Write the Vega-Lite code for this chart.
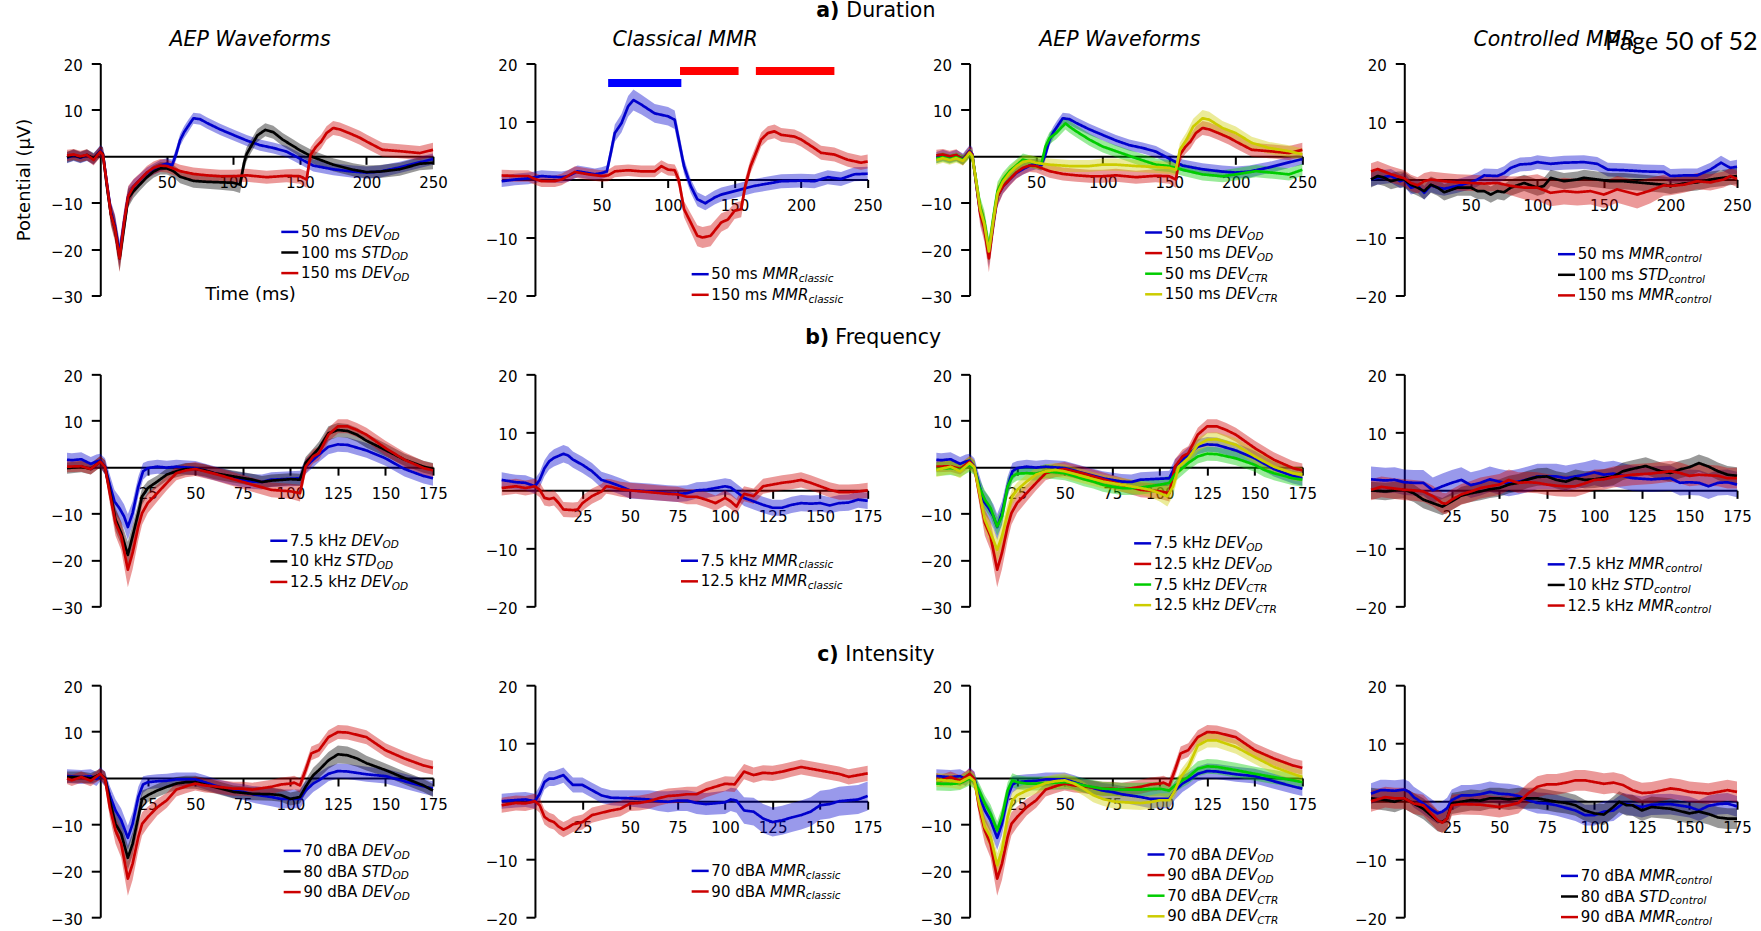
{
"$schema": "https://vega.github.io/schema/vega-lite/v6.json",
"padding": {"left": 15, "top": 0.5, "right": 0, "bottom": 0},
"background": "white",
"config": {
 "view": {"stroke": null},
 "font": "DejaVu Sans",
 "axis": {"domainColor":"#000000","domainWidth":2,"tickColor":"#000000","tickWidth":2,"labelColor":"#000000","labelFont":"DejaVu Sans","labelFontSize":15,"grid":false,"titleFont":"DejaVu Sans","titleFontSize":18,"titleFontWeight":"normal","titleColor":"#000000","zindex":1,"labelOverlap":false,"labelFlush":false,"titleLimit":2000},
 "axisX": {"tickSize":8,"labelPadding":11},
 "axisY": {"tickSize":9,"labelPadding":9,"labelOffset":2},
 "legend": {"orient":"none","direction":"vertical","symbolType":"stroke","symbolSize":289,"symbolStrokeWidth":2.5,"labelFont":"DejaVu Sans","labelFontSize":15,"labelColor":"#000000","labelLimit":800,"labelOffset":1.2,"rowPadding":2.6,"padding":0,"offset":0},
 "title": {"font":"DejaVu Sans","fontSize":20.5,"fontStyle":"italic","fontWeight":"normal","color":"#000000","frame":"group","anchor":"middle","baseline":"alphabetic","offset":8.1}
},
"datasets": {
"d11": [
{"s":"b","t":-25,"m":-0.3,"e":1.2},{"s":"b","t":-20,"m":0.2,"e":1.2},{"s":"b","t":-15,"m":-0.3,"e":1.2},{"s":"b","t":-10,"m":0.2,"e":1.2},{"s":"b","t":-5,"m":-0.6,"e":1.2},{"s":"b","t":-2,"m":0.5,"e":1.2},{"s":"b","t":0,"m":1.2,"e":1.2},{"s":"b","t":2,"m":0.5,"e":1.5},{"s":"b","t":5,"m":-6,"e":2},{"s":"b","t":8,"m":-12,"e":2.2},{"s":"b","t":11,"m":-15,"e":2.5},{"s":"b","t":14.5,"m":-21,"e":2.8},{"s":"b","t":18,"m":-14,"e":2.5},{"s":"b","t":21,"m":-8.6,"e":2},{"s":"b","t":25,"m":-6.5,"e":1.5},{"s":"b","t":30,"m":-5,"e":1.3},{"s":"b","t":35,"m":-3.6,"e":1.2},{"s":"b","t":40,"m":-2.8,"e":1.2},{"s":"b","t":45,"m":-2,"e":1.2},{"s":"b","t":50,"m":-1.6,"e":1.2},{"s":"b","t":54,"m":-1.9,"e":1.2},{"s":"b","t":57,"m":0.5,"e":1.3},{"s":"b","t":60,"m":3.5,"e":1.3},{"s":"b","t":63,"m":5.2,"e":1.3},{"s":"b","t":66,"m":6.5,"e":1.3},{"s":"b","t":70,"m":8.2,"e":1.2},{"s":"b","t":75,"m":8,"e":1.2},{"s":"b","t":80,"m":7.2,"e":1.2},{"s":"b","t":90,"m":5.8,"e":1.2},{"s":"b","t":100,"m":4.6,"e":1.2},{"s":"b","t":110,"m":3.4,"e":1.2},{"s":"b","t":120,"m":2.4,"e":1.2},{"s":"b","t":130,"m":1.8,"e":1.2},{"s":"b","t":140,"m":1,"e":1.2},{"s":"b","t":150,"m":-0.5,"e":1.2},{"s":"b","t":160,"m":-2,"e":1.3},{"s":"b","t":175,"m":-2.8,"e":1.3},{"s":"b","t":190,"m":-3.3,"e":1.3},{"s":"b","t":200,"m":-3.5,"e":1.3},{"s":"b","t":210,"m":-3.3,"e":1.3},{"s":"b","t":225,"m":-2.4,"e":1.2},{"s":"b","t":240,"m":-1.3,"e":1.2},{"s":"b","t":250,"m":-0.6,"e":1.2},
{"s":"k","t":-25,"m":-0.2,"e":1.2},{"s":"k","t":-20,"m":0.3,"e":1.2},{"s":"k","t":-15,"m":-0.2,"e":1.2},{"s":"k","t":-10,"m":0.3,"e":1.2},{"s":"k","t":-5,"m":-0.5,"e":1.2},{"s":"k","t":-2,"m":0.4,"e":1.2},{"s":"k","t":0,"m":1,"e":1.2},{"s":"k","t":2,"m":0.5,"e":1.5},{"s":"k","t":5,"m":-6.5,"e":2},{"s":"k","t":8,"m":-12.5,"e":2.2},{"s":"k","t":11,"m":-15.5,"e":2.5},{"s":"k","t":14.5,"m":-22,"e":2.8},{"s":"k","t":18,"m":-15,"e":2.5},{"s":"k","t":21,"m":-9,"e":2},{"s":"k","t":25,"m":-7.5,"e":1.5},{"s":"k","t":30,"m":-6,"e":1.3},{"s":"k","t":35,"m":-4.5,"e":1.3},{"s":"k","t":40,"m":-3.3,"e":1.3},{"s":"k","t":45,"m":-2.6,"e":1.3},{"s":"k","t":50,"m":-2.6,"e":1.3},{"s":"k","t":55,"m":-3.2,"e":1.3},{"s":"k","t":60,"m":-4.4,"e":1.4},{"s":"k","t":70,"m":-5.3,"e":1.5},{"s":"k","t":80,"m":-5.5,"e":1.5},{"s":"k","t":90,"m":-5.6,"e":1.6},{"s":"k","t":100,"m":-5.7,"e":1.8},{"s":"k","t":105,"m":-6.1,"e":1.8},{"s":"k","t":108,"m":-1.5,"e":1.6},{"s":"k","t":110,"m":0.5,"e":1.5},{"s":"k","t":113,"m":2,"e":1.4},{"s":"k","t":118,"m":4.5,"e":1.4},{"s":"k","t":124,"m":5.7,"e":1.4},{"s":"k","t":130,"m":5.2,"e":1.4},{"s":"k","t":137,"m":3.6,"e":1.4},{"s":"k","t":145,"m":2.2,"e":1.4},{"s":"k","t":150,"m":1.3,"e":1.4},{"s":"k","t":160,"m":-0.2,"e":1.4},{"s":"k","t":175,"m":-1.8,"e":1.4},{"s":"k","t":190,"m":-2.9,"e":1.4},{"s":"k","t":200,"m":-3.4,"e":1.4},{"s":"k","t":210,"m":-3.3,"e":1.4},{"s":"k","t":225,"m":-2.8,"e":1.4},{"s":"k","t":240,"m":-1.6,"e":1.4},{"s":"k","t":250,"m":-1.4,"e":1.4},
{"s":"r","t":-25,"m":0.2,"e":1.2},{"s":"r","t":-20,"m":0.4,"e":1.2},{"s":"r","t":-15,"m":0,"e":1.2},{"s":"r","t":-10,"m":0.3,"e":1.2},{"s":"r","t":-5,"m":-0.8,"e":1.2},{"s":"r","t":-2,"m":0.3,"e":1.2},{"s":"r","t":0,"m":1,"e":1.2},{"s":"r","t":2,"m":0.3,"e":1.5},{"s":"r","t":5,"m":-6,"e":2.2},{"s":"r","t":8,"m":-12.5,"e":2.5},{"s":"r","t":11,"m":-15.5,"e":2.8},{"s":"r","t":14.5,"m":-22,"e":3},{"s":"r","t":18,"m":-14,"e":2.8},{"s":"r","t":21,"m":-8.6,"e":2.2},{"s":"r","t":25,"m":-6.5,"e":1.6},{"s":"r","t":30,"m":-5,"e":1.4},{"s":"r","t":35,"m":-3.5,"e":1.4},{"s":"r","t":40,"m":-2.5,"e":1.4},{"s":"r","t":45,"m":-2,"e":1.4},{"s":"r","t":50,"m":-2.1,"e":1.4},{"s":"r","t":60,"m":-3.2,"e":1.4},{"s":"r","t":70,"m":-3.8,"e":1.4},{"s":"r","t":80,"m":-4.1,"e":1.4},{"s":"r","t":90,"m":-4.3,"e":1.4},{"s":"r","t":100,"m":-4.3,"e":1.4},{"s":"r","t":110,"m":-4.1,"e":1.4},{"s":"r","t":125,"m":-4.5,"e":1.4},{"s":"r","t":140,"m":-4.2,"e":1.4},{"s":"r","t":150,"m":-4.3,"e":1.6},{"s":"r","t":155,"m":-5,"e":1.8},{"s":"r","t":158,"m":0.3,"e":1.6},{"s":"r","t":162,"m":2,"e":1.5},{"s":"r","t":166,"m":3.2,"e":1.5},{"s":"r","t":170,"m":5,"e":1.5},{"s":"r","t":175,"m":6.1,"e":1.5},{"s":"r","t":180,"m":5.8,"e":1.5},{"s":"r","t":187,"m":5,"e":1.5},{"s":"r","t":195,"m":4,"e":1.5},{"s":"r","t":200,"m":3.2,"e":1.5},{"s":"r","t":212,"m":1.4,"e":1.5},{"s":"r","t":225,"m":1.1,"e":1.5},{"s":"r","t":240,"m":0.7,"e":1.5},{"s":"r","t":250,"m":1.4,"e":1.5}
],
"d12": [
{"s":"b","t":-25,"m":-0.3,"e":1},{"s":"b","t":-15,"m":0,"e":1},{"s":"b","t":-5,"m":0.2,"e":1},{"s":"b","t":0,"m":0.4,"e":1},{"s":"b","t":5,"m":0.6,"e":1},{"s":"b","t":10,"m":0.5,"e":1},{"s":"b","t":20,"m":0.4,"e":1},{"s":"b","t":25,"m":0.6,"e":1},{"s":"b","t":32,"m":1.4,"e":1},{"s":"b","t":40,"m":1.1,"e":1},{"s":"b","t":45,"m":0.9,"e":1},{"s":"b","t":50,"m":1.1,"e":1},{"s":"b","t":54,"m":1.4,"e":1},{"s":"b","t":57,"m":4.6,"e":1.3},{"s":"b","t":60,"m":8,"e":1.5},{"s":"b","t":65,"m":9.7,"e":1.6},{"s":"b","t":70,"m":12.6,"e":1.8},{"s":"b","t":74,"m":13.7,"e":1.8},{"s":"b","t":80,"m":12.9,"e":1.7},{"s":"b","t":90,"m":11.4,"e":1.6},{"s":"b","t":100,"m":10.9,"e":1.6},{"s":"b","t":105,"m":10.3,"e":1.6},{"s":"b","t":108,"m":6.9,"e":1.5},{"s":"b","t":112,"m":2.3,"e":1.3},{"s":"b","t":117,"m":-1.1,"e":1.2},{"s":"b","t":122,"m":-3.4,"e":1.2},{"s":"b","t":128,"m":-4.1,"e":1.2},{"s":"b","t":135,"m":-3.1,"e":1.2},{"s":"b","t":140,"m":-2.6,"e":1.2},{"s":"b","t":150,"m":-2,"e":1.2},{"s":"b","t":155,"m":-1.7,"e":1.2},{"s":"b","t":165,"m":-1.1,"e":1.2},{"s":"b","t":175,"m":-0.7,"e":1.2},{"s":"b","t":185,"m":-0.3,"e":1.2},{"s":"b","t":200,"m":-0.2,"e":1.2},{"s":"b","t":210,"m":-0.3,"e":1.2},{"s":"b","t":220,"m":0.4,"e":1.2},{"s":"b","t":230,"m":0.1,"e":1.2},{"s":"b","t":240,"m":0.9,"e":1.2},{"s":"b","t":250,"m":1,"e":1.2},
{"s":"r","t":-25,"m":0.7,"e":1},{"s":"r","t":-15,"m":0.6,"e":1},{"s":"r","t":-5,"m":0.6,"e":1},{"s":"r","t":0,"m":0.1,"e":1},{"s":"r","t":5,"m":-0.3,"e":1},{"s":"r","t":15,"m":-0.3,"e":1},{"s":"r","t":20,"m":0,"e":1},{"s":"r","t":30,"m":1.3,"e":1},{"s":"r","t":40,"m":0.9,"e":1},{"s":"r","t":50,"m":0.6,"e":1},{"s":"r","t":55,"m":0.7,"e":1},{"s":"r","t":60,"m":1.4,"e":1},{"s":"r","t":70,"m":1.6,"e":1},{"s":"r","t":80,"m":1.4,"e":1},{"s":"r","t":90,"m":1.4,"e":1},{"s":"r","t":95,"m":2.3,"e":1},{"s":"r","t":100,"m":1.7,"e":1},{"s":"r","t":105,"m":1.6,"e":1},{"s":"r","t":108,"m":0,"e":1.2},{"s":"r","t":112,"m":-5.1,"e":1.4},{"s":"r","t":117,"m":-7.4,"e":1.6},{"s":"r","t":122,"m":-9.7,"e":1.8},{"s":"r","t":126,"m":-10,"e":1.8},{"s":"r","t":132,"m":-9.7,"e":1.8},{"s":"r","t":140,"m":-7.4,"e":1.6},{"s":"r","t":145,"m":-6.9,"e":1.5},{"s":"r","t":150,"m":-5.4,"e":1.4},{"s":"r","t":155,"m":-5.1,"e":1.4},{"s":"r","t":158,"m":-1.1,"e":1.3},{"s":"r","t":162,"m":2.3,"e":1.2},{"s":"r","t":165,"m":4,"e":1.2},{"s":"r","t":170,"m":6.9,"e":1.2},{"s":"r","t":175,"m":8,"e":1.2},{"s":"r","t":180,"m":8.3,"e":1.2},{"s":"r","t":185,"m":7.7,"e":1.2},{"s":"r","t":195,"m":7.4,"e":1.2},{"s":"r","t":200,"m":6.9,"e":1.2},{"s":"r","t":210,"m":5.4,"e":1.2},{"s":"r","t":215,"m":4.6,"e":1.2},{"s":"r","t":225,"m":4.3,"e":1.2},{"s":"r","t":235,"m":3.4,"e":1.2},{"s":"r","t":245,"m":2.9,"e":1.2},{"s":"r","t":250,"m":3.1,"e":1.2}
],
"d13": [
{"s":"g","t":-25,"m":-0.5,"e":1},{"s":"g","t":-20,"m":-0.2,"e":1},{"s":"g","t":-15,"m":-0.6,"e":1},{"s":"g","t":-10,"m":-0.2,"e":1},{"s":"g","t":-5,"m":-0.8,"e":1},{"s":"g","t":-2,"m":0,"e":1},{"s":"g","t":0,"m":0.6,"e":1},{"s":"g","t":2,"m":0,"e":1.3},{"s":"g","t":5,"m":-5.5,"e":2},{"s":"g","t":8,"m":-11,"e":2.2},{"s":"g","t":11,"m":-14,"e":2.4},{"s":"g","t":14.5,"m":-20,"e":2.5},{"s":"g","t":18,"m":-13,"e":2.4},{"s":"g","t":21,"m":-7.5,"e":2},{"s":"g","t":25,"m":-5,"e":1.5},{"s":"g","t":30,"m":-3.2,"e":1.3},{"s":"g","t":35,"m":-2,"e":1.3},{"s":"g","t":40,"m":-0.7,"e":1.3},{"s":"g","t":45,"m":-1.1,"e":1.3},{"s":"g","t":50,"m":-1.4,"e":1.3},{"s":"g","t":54,"m":-1.6,"e":1.3},{"s":"g","t":57,"m":2.1,"e":1.3},{"s":"g","t":60,"m":3.9,"e":1.3},{"s":"g","t":65,"m":5,"e":1.3},{"s":"g","t":72,"m":7.1,"e":1.3},{"s":"g","t":75,"m":6.4,"e":1.3},{"s":"g","t":80,"m":5.4,"e":1.3},{"s":"g","t":90,"m":3.6,"e":1.3},{"s":"g","t":100,"m":2.1,"e":1.3},{"s":"g","t":110,"m":1.1,"e":1.3},{"s":"g","t":125,"m":-0.4,"e":1.3},{"s":"g","t":140,"m":-1.8,"e":1.3},{"s":"g","t":150,"m":-2.1,"e":1.3},{"s":"g","t":160,"m":-2.9,"e":1.3},{"s":"g","t":175,"m":-3.9,"e":1.3},{"s":"g","t":190,"m":-4.3,"e":1.3},{"s":"g","t":200,"m":-3.9,"e":1.3},{"s":"g","t":215,"m":-3.2,"e":1.3},{"s":"g","t":230,"m":-3.6,"e":1.3},{"s":"g","t":240,"m":-3.9,"e":1.3},{"s":"g","t":250,"m":-2.9,"e":1.3},
{"s":"y","t":-25,"m":-0.8,"e":1},{"s":"y","t":-20,"m":-0.4,"e":1},{"s":"y","t":-15,"m":-0.8,"e":1},{"s":"y","t":-10,"m":-0.4,"e":1},{"s":"y","t":-5,"m":-1,"e":1},{"s":"y","t":-2,"m":0,"e":1},{"s":"y","t":0,"m":0.8,"e":1},{"s":"y","t":2,"m":0,"e":1.3},{"s":"y","t":5,"m":-5.5,"e":2},{"s":"y","t":8,"m":-11.5,"e":2.2},{"s":"y","t":11,"m":-14.5,"e":2.4},{"s":"y","t":14.5,"m":-20.5,"e":2.5},{"s":"y","t":18,"m":-13.5,"e":2.4},{"s":"y","t":21,"m":-8,"e":2},{"s":"y","t":25,"m":-5.5,"e":1.5},{"s":"y","t":30,"m":-3.6,"e":1.3},{"s":"y","t":35,"m":-2.2,"e":1.3},{"s":"y","t":40,"m":-1.2,"e":1.3},{"s":"y","t":45,"m":-1,"e":1.3},{"s":"y","t":50,"m":-1.4,"e":1.3},{"s":"y","t":60,"m":-1.8,"e":1.3},{"s":"y","t":75,"m":-2.1,"e":1.3},{"s":"y","t":90,"m":-2.1,"e":1.3},{"s":"y","t":100,"m":-1.8,"e":1.3},{"s":"y","t":110,"m":-1.8,"e":1.3},{"s":"y","t":125,"m":-2.1,"e":1.3},{"s":"y","t":140,"m":-2.3,"e":1.3},{"s":"y","t":150,"m":-2.5,"e":1.3},{"s":"y","t":155,"m":-2.9,"e":1.3},{"s":"y","t":158,"m":1.4,"e":1.5},{"s":"y","t":163,"m":3.6,"e":1.6},{"s":"y","t":168,"m":6.4,"e":1.7},{"s":"y","t":175,"m":8.2,"e":1.8},{"s":"y","t":180,"m":7.9,"e":1.7},{"s":"y","t":190,"m":6.1,"e":1.5},{"s":"y","t":200,"m":5,"e":1.4},{"s":"y","t":212,"m":2.9,"e":1.3},{"s":"y","t":225,"m":1.8,"e":1.3},{"s":"y","t":240,"m":1.1,"e":1.3},{"s":"y","t":250,"m":0.4,"e":1.3}
],
"d14": [
{"s":"b","t":-25,"m":0,"e":1.2},{"s":"b","t":-20,"m":0.3,"e":1.2},{"s":"b","t":-10,"m":0.6,"e":1.2},{"s":"b","t":-3,"m":-0.3,"e":1.2},{"s":"b","t":0,"m":0,"e":1.2},{"s":"b","t":5,"m":-1.4,"e":1.2},{"s":"b","t":10,"m":-1.1,"e":1.2},{"s":"b","t":15,"m":-2.3,"e":1.2},{"s":"b","t":20,"m":-1,"e":1.2},{"s":"b","t":25,"m":-1.4,"e":1.2},{"s":"b","t":30,"m":-1.6,"e":1.2},{"s":"b","t":40,"m":-1.1,"e":1.2},{"s":"b","t":50,"m":-0.5,"e":1.2},{"s":"b","t":55,"m":0,"e":1.2},{"s":"b","t":60,"m":0.7,"e":1.2},{"s":"b","t":70,"m":0.6,"e":1.2},{"s":"b","t":75,"m":1.1,"e":1.2},{"s":"b","t":80,"m":2,"e":1.2},{"s":"b","t":87,"m":2.6,"e":1.2},{"s":"b","t":95,"m":2.7,"e":1.2},{"s":"b","t":100,"m":3,"e":1.2},{"s":"b","t":110,"m":2.7,"e":1.2},{"s":"b","t":120,"m":2.9,"e":1.2},{"s":"b","t":135,"m":3,"e":1.2},{"s":"b","t":145,"m":2.7,"e":1.2},{"s":"b","t":153,"m":1.7,"e":1.2},{"s":"b","t":165,"m":1.6,"e":1.2},{"s":"b","t":180,"m":1.4,"e":1.2},{"s":"b","t":195,"m":1.3,"e":1.2},{"s":"b","t":200,"m":0.6,"e":1.2},{"s":"b","t":210,"m":0.7,"e":1.2},{"s":"b","t":220,"m":0.7,"e":1.2},{"s":"b","t":230,"m":1.7,"e":1.2},{"s":"b","t":238,"m":2.9,"e":1.2},{"s":"b","t":245,"m":2,"e":1.2},{"s":"b","t":250,"m":2.2,"e":1.2},
{"s":"k","t":-25,"m":0,"e":1.4},{"s":"k","t":-20,"m":0.6,"e":1.4},{"s":"k","t":-15,"m":0.3,"e":1.4},{"s":"k","t":-10,"m":-0.3,"e":1.4},{"s":"k","t":-5,"m":0,"e":1.4},{"s":"k","t":0,"m":0,"e":1.4},{"s":"k","t":5,"m":-0.9,"e":1.4},{"s":"k","t":10,"m":-1.4,"e":1.4},{"s":"k","t":15,"m":-2,"e":1.4},{"s":"k","t":20,"m":-0.9,"e":1.4},{"s":"k","t":25,"m":-1.4,"e":1.4},{"s":"k","t":30,"m":-2.2,"e":1.4},{"s":"k","t":40,"m":-1.4,"e":1.4},{"s":"k","t":50,"m":-1.4,"e":1.4},{"s":"k","t":55,"m":-2,"e":1.4},{"s":"k","t":60,"m":-2,"e":1.4},{"s":"k","t":65,"m":-2.6,"e":1.4},{"s":"k","t":70,"m":-2,"e":1.4},{"s":"k","t":75,"m":-2.2,"e":1.4},{"s":"k","t":80,"m":-1.4,"e":1.4},{"s":"k","t":90,"m":-0.6,"e":1.4},{"s":"k","t":100,"m":-1.4,"e":1.4},{"s":"k","t":105,"m":-1.1,"e":1.4},{"s":"k","t":110,"m":0.3,"e":1.4},{"s":"k","t":120,"m":-0.3,"e":1.4},{"s":"k","t":130,"m":0,"e":1.4},{"s":"k","t":135,"m":0.3,"e":1.4},{"s":"k","t":145,"m":0,"e":1.4},{"s":"k","t":155,"m":-0.3,"e":1.4},{"s":"k","t":165,"m":-0.3,"e":1.4},{"s":"k","t":180,"m":-0.6,"e":1.4},{"s":"k","t":195,"m":-0.9,"e":1.4},{"s":"k","t":200,"m":-1.1,"e":1.4},{"s":"k","t":210,"m":-0.7,"e":1.4},{"s":"k","t":220,"m":-0.5,"e":1.4},{"s":"k","t":230,"m":0,"e":1.4},{"s":"k","t":240,"m":0.3,"e":1.4},{"s":"k","t":250,"m":0.6,"e":1.4},
{"s":"r","t":-25,"m":1.4,"e":1.4},{"s":"r","t":-20,"m":1.8,"e":1.4},{"s":"r","t":-10,"m":0.9,"e":1.4},{"s":"r","t":0,"m":0.2,"e":1.4},{"s":"r","t":5,"m":-0.6,"e":1.4},{"s":"r","t":10,"m":-1,"e":1.4},{"s":"r","t":15,"m":-0.3,"e":1.4},{"s":"r","t":20,"m":0,"e":1.4},{"s":"r","t":30,"m":-0.3,"e":1.4},{"s":"r","t":40,"m":-0.5,"e":1.4},{"s":"r","t":50,"m":-0.6,"e":1.4},{"s":"r","t":60,"m":-0.7,"e":1.4},{"s":"r","t":70,"m":-0.6,"e":1.4},{"s":"r","t":80,"m":-1.1,"e":1.6},{"s":"r","t":90,"m":-1.4,"e":2},{"s":"r","t":100,"m":-1.4,"e":2.3},{"s":"r","t":110,"m":-2.3,"e":2.3},{"s":"r","t":120,"m":-2,"e":2.3},{"s":"r","t":130,"m":-2.2,"e":2.3},{"s":"r","t":140,"m":-2,"e":2.3},{"s":"r","t":150,"m":-2.6,"e":2.3},{"s":"r","t":160,"m":-1.7,"e":2.3},{"s":"r","t":175,"m":-2.6,"e":2.4},{"s":"r","t":185,"m":-1.9,"e":2.2},{"s":"r","t":195,"m":-1,"e":1.8},{"s":"r","t":200,"m":-1.1,"e":1.6},{"s":"r","t":210,"m":-0.9,"e":1.4},{"s":"r","t":220,"m":-0.3,"e":1.4},{"s":"r","t":230,"m":-0.5,"e":1.4},{"s":"r","t":240,"m":0,"e":1.4},{"s":"r","t":245,"m":0.6,"e":1.4},{"s":"r","t":250,"m":0.1,"e":1.4}
],
"d21": [
{"s":"b","t":-17.5,"m":1.6,"e":1.5},{"s":"b","t":-15,"m":1.5,"e":1.5},{"s":"b","t":-10,"m":1.7,"e":1.5},{"s":"b","t":-5,"m":0.7,"e":1.5},{"s":"b","t":-2,"m":1.2,"e":1.5},{"s":"b","t":0,"m":1.4,"e":1.5},{"s":"b","t":2.5,"m":0.1,"e":1.8},{"s":"b","t":5,"m":-3.8,"e":2.2},{"s":"b","t":7.5,"m":-7.4,"e":2.5},{"s":"b","t":10,"m":-8.8,"e":2.5},{"s":"b","t":12.5,"m":-10.6,"e":2.6},{"s":"b","t":14.5,"m":-12.9,"e":2.8},{"s":"b","t":17,"m":-9.9,"e":2.5},{"s":"b","t":20,"m":-4.2,"e":2.2},{"s":"b","t":22.5,"m":-0.9,"e":1.8},{"s":"b","t":25,"m":-0.2,"e":1.5},{"s":"b","t":30,"m":0.1,"e":1.5},{"s":"b","t":35,"m":-0.1,"e":1.5},{"s":"b","t":40,"m":0.1,"e":1.5},{"s":"b","t":50,"m":-0.2,"e":1.5},{"s":"b","t":60,"m":-1.3,"e":1.5},{"s":"b","t":70,"m":-2.4,"e":1.5},{"s":"b","t":80,"m":-3.1,"e":1.6},{"s":"b","t":85,"m":-3.2,"e":1.6},{"s":"b","t":90,"m":-2.7,"e":1.6},{"s":"b","t":100,"m":-2.5,"e":1.6},{"s":"b","t":105,"m":-2.4,"e":1.6},{"s":"b","t":108,"m":0.1,"e":1.6},{"s":"b","t":112,"m":1.6,"e":1.6},{"s":"b","t":115,"m":2.7,"e":1.6},{"s":"b","t":120,"m":4.4,"e":1.6},{"s":"b","t":125,"m":4.9,"e":1.6},{"s":"b","t":130,"m":4.8,"e":1.6},{"s":"b","t":140,"m":3.6,"e":1.6},{"s":"b","t":150,"m":1.9,"e":1.6},{"s":"b","t":160,"m":-0.4,"e":1.6},{"s":"b","t":170,"m":-1.9,"e":1.6},{"s":"b","t":175,"m":-2.4,"e":1.6},
{"s":"k","t":-17.5,"m":-0.2,"e":1.2},{"s":"k","t":-10,"m":0.1,"e":1.2},{"s":"k","t":-5,"m":-0.4,"e":1.2},{"s":"k","t":0,"m":1.2,"e":1.2},{"s":"k","t":2.5,"m":0,"e":1.5},{"s":"k","t":5,"m":-4.9,"e":2},{"s":"k","t":8,"m":-11.3,"e":2.5},{"s":"k","t":11,"m":-14.2,"e":2.5},{"s":"k","t":14.5,"m":-18.9,"e":2.8},{"s":"k","t":17,"m":-14.9,"e":2.5},{"s":"k","t":20,"m":-9.9,"e":2.2},{"s":"k","t":22,"m":-6.3,"e":1.8},{"s":"k","t":25,"m":-4.5,"e":1.5},{"s":"k","t":30,"m":-3.1,"e":1.3},{"s":"k","t":35,"m":-1.6,"e":1.3},{"s":"k","t":40,"m":-0.9,"e":1.3},{"s":"k","t":45,"m":-0.4,"e":1.3},{"s":"k","t":50,"m":-0.4,"e":1.3},{"s":"k","t":55,"m":-0.7,"e":1.3},{"s":"k","t":60,"m":-1.3,"e":1.3},{"s":"k","t":70,"m":-2,"e":1.3},{"s":"k","t":80,"m":-2.7,"e":1.3},{"s":"k","t":85,"m":-3.2,"e":1.3},{"s":"k","t":90,"m":-2.9,"e":1.3},{"s":"k","t":100,"m":-2.6,"e":1.3},{"s":"k","t":105,"m":-2.7,"e":1.3},{"s":"k","t":108,"m":0.9,"e":1.3},{"s":"k","t":112,"m":2.7,"e":1.3},{"s":"k","t":115,"m":4.1,"e":1.4},{"s":"k","t":120,"m":7.3,"e":1.5},{"s":"k","t":125,"m":8,"e":1.5},{"s":"k","t":130,"m":7.8,"e":1.5},{"s":"k","t":135,"m":7,"e":1.5},{"s":"k","t":140,"m":5.7,"e":1.5},{"s":"k","t":150,"m":3.7,"e":1.4},{"s":"k","t":160,"m":1.6,"e":1.3},{"s":"k","t":170,"m":0.1,"e":1.3},{"s":"k","t":175,"m":-0.4,"e":1.3},
{"s":"r","t":-17.5,"m":0.1,"e":1.2},{"s":"r","t":-10,"m":0.2,"e":1.2},{"s":"r","t":-5,"m":-0.4,"e":1.2},{"s":"r","t":0,"m":1.2,"e":1.2},{"s":"r","t":2.5,"m":0,"e":1.5},{"s":"r","t":5,"m":-5.6,"e":2.2},{"s":"r","t":8,"m":-12,"e":2.8},{"s":"r","t":11,"m":-14.9,"e":3},{"s":"r","t":14.5,"m":-22.1,"e":3.8},{"s":"r","t":17,"m":-18.5,"e":3.5},{"s":"r","t":20,"m":-12.8,"e":3},{"s":"r","t":22,"m":-9.9,"e":2.5},{"s":"r","t":25,"m":-7.7,"e":2.2},{"s":"r","t":30,"m":-5.6,"e":1.8},{"s":"r","t":35,"m":-3.4,"e":1.6},{"s":"r","t":40,"m":-1.3,"e":1.5},{"s":"r","t":45,"m":-0.7,"e":1.5},{"s":"r","t":50,"m":-0.4,"e":1.5},{"s":"r","t":55,"m":-0.9,"e":1.5},{"s":"r","t":60,"m":-1.4,"e":1.5},{"s":"r","t":70,"m":-2.6,"e":1.5},{"s":"r","t":80,"m":-3.8,"e":1.5},{"s":"r","t":90,"m":-4.9,"e":1.6},{"s":"r","t":100,"m":-5.2,"e":1.6},{"s":"r","t":105,"m":-5.6,"e":1.8},{"s":"r","t":108,"m":0.1,"e":1.6},{"s":"r","t":112,"m":2.3,"e":1.5},{"s":"r","t":115,"m":3,"e":1.5},{"s":"r","t":120,"m":7,"e":1.5},{"s":"r","t":125,"m":8.8,"e":1.5},{"s":"r","t":130,"m":8.8,"e":1.5},{"s":"r","t":135,"m":8,"e":1.5},{"s":"r","t":140,"m":7,"e":1.5},{"s":"r","t":150,"m":4.1,"e":1.6},{"s":"r","t":160,"m":1.6,"e":1.6},{"s":"r","t":170,"m":-0.2,"e":1.5},{"s":"r","t":175,"m":-0.7,"e":1.5}
],
"d22": [
{"s":"b","t":-17.5,"m":1.8,"e":1.3},{"s":"b","t":-10,"m":1.4,"e":1.3},{"s":"b","t":-5,"m":1.3,"e":1.3},{"s":"b","t":0,"m":0.7,"e":1.3},{"s":"b","t":2.5,"m":1.8,"e":1.3},{"s":"b","t":5,"m":3.8,"e":1.4},{"s":"b","t":7.5,"m":5,"e":1.4},{"s":"b","t":10,"m":5.6,"e":1.5},{"s":"b","t":15,"m":6.3,"e":1.5},{"s":"b","t":17.5,"m":6,"e":1.5},{"s":"b","t":20,"m":5.3,"e":1.4},{"s":"b","t":25,"m":4.4,"e":1.4},{"s":"b","t":30,"m":3.3,"e":1.4},{"s":"b","t":35,"m":1.8,"e":1.4},{"s":"b","t":40,"m":1.3,"e":1.4},{"s":"b","t":45,"m":0.7,"e":1.4},{"s":"b","t":50,"m":0,"e":1.4},{"s":"b","t":60,"m":-0.2,"e":1.4},{"s":"b","t":70,"m":-0.5,"e":1.4},{"s":"b","t":75,"m":-0.6,"e":1.4},{"s":"b","t":80,"m":-0.5,"e":1.4},{"s":"b","t":85,"m":0,"e":1.4},{"s":"b","t":90,"m":0.1,"e":1.4},{"s":"b","t":95,"m":0.4,"e":1.4},{"s":"b","t":100,"m":0.7,"e":1.4},{"s":"b","t":103,"m":0.5,"e":1.4},{"s":"b","t":107,"m":-0.5,"e":1.4},{"s":"b","t":110,"m":-1.3,"e":1.4},{"s":"b","t":115,"m":-1.9,"e":1.4},{"s":"b","t":120,"m":-2.5,"e":1.4},{"s":"b","t":125,"m":-3,"e":1.4},{"s":"b","t":130,"m":-3,"e":1.4},{"s":"b","t":135,"m":-2.5,"e":1.4},{"s":"b","t":140,"m":-2.2,"e":1.4},{"s":"b","t":145,"m":-2.3,"e":1.4},{"s":"b","t":150,"m":-2.2,"e":1.4},{"s":"b","t":155,"m":-2.6,"e":1.4},{"s":"b","t":160,"m":-2.2,"e":1.4},{"s":"b","t":165,"m":-2.1,"e":1.4},{"s":"b","t":170,"m":-1.6,"e":1.4},{"s":"b","t":175,"m":-1.8,"e":1.4},
{"s":"r","t":-17.5,"m":0.4,"e":1.3},{"s":"r","t":-10,"m":0.7,"e":1.3},{"s":"r","t":-5,"m":0.4,"e":1.3},{"s":"r","t":0,"m":0.7,"e":1.3},{"s":"r","t":2.5,"m":0.1,"e":1.3},{"s":"r","t":5,"m":-1.3,"e":1.3},{"s":"r","t":7.5,"m":-1.5,"e":1.3},{"s":"r","t":10,"m":-1.3,"e":1.3},{"s":"r","t":12.5,"m":-2.2,"e":1.3},{"s":"r","t":15,"m":-3.3,"e":1.3},{"s":"r","t":20,"m":-3.4,"e":1.3},{"s":"r","t":22.5,"m":-3.3,"e":1.3},{"s":"r","t":25,"m":-2.2,"e":1.3},{"s":"r","t":30,"m":-1,"e":1.3},{"s":"r","t":35,"m":-0.2,"e":1.3},{"s":"r","t":37.5,"m":0.7,"e":1.3},{"s":"r","t":40,"m":0.6,"e":1.3},{"s":"r","t":45,"m":0.2,"e":1.3},{"s":"r","t":50,"m":0,"e":1.3},{"s":"r","t":60,"m":-0.3,"e":1.3},{"s":"r","t":70,"m":-0.6,"e":1.3},{"s":"r","t":75,"m":-0.7,"e":1.3},{"s":"r","t":80,"m":-1.1,"e":1.3},{"s":"r","t":85,"m":-1.1,"e":1.3},{"s":"r","t":90,"m":-1.6,"e":1.3},{"s":"r","t":95,"m":-2.2,"e":1.3},{"s":"r","t":100,"m":-1.3,"e":1.3},{"s":"r","t":103,"m":-1.9,"e":1.3},{"s":"r","t":106,"m":-2.8,"e":1.3},{"s":"r","t":108,"m":-1.6,"e":1.3},{"s":"r","t":110,"m":-0.6,"e":1.3},{"s":"r","t":115,"m":-1,"e":1.3},{"s":"r","t":120,"m":0.7,"e":1.3},{"s":"r","t":125,"m":1,"e":1.3},{"s":"r","t":130,"m":1.3,"e":1.3},{"s":"r","t":135,"m":1.5,"e":1.3},{"s":"r","t":140,"m":1.8,"e":1.3},{"s":"r","t":145,"m":1.3,"e":1.3},{"s":"r","t":150,"m":0.7,"e":1.3},{"s":"r","t":155,"m":0.1,"e":1.3},{"s":"r","t":160,"m":-0.3,"e":1.3},{"s":"r","t":165,"m":-0.3,"e":1.3},{"s":"r","t":170,"m":-0.2,"e":1.3},{"s":"r","t":175,"m":0,"e":1.3}
],
"d23": [
{"s":"g","t":-17.5,"m":-0.4,"e":1.5},{"s":"g","t":-10,"m":-0.2,"e":1.5},{"s":"g","t":-5,"m":-0.6,"e":1.5},{"s":"g","t":0,"m":0.5,"e":1.5},{"s":"g","t":2.5,"m":-0.2,"e":1.5},{"s":"g","t":5,"m":-4.2,"e":1.8},{"s":"g","t":8,"m":-7,"e":2},{"s":"g","t":11,"m":-8.8,"e":2},{"s":"g","t":14.5,"m":-12.8,"e":2},{"s":"g","t":17,"m":-10.6,"e":2},{"s":"g","t":20,"m":-4.2,"e":1.8},{"s":"g","t":22.5,"m":-2,"e":1.5},{"s":"g","t":25,"m":-1.4,"e":1.5},{"s":"g","t":30,"m":-1.3,"e":1.5},{"s":"g","t":35,"m":-1.4,"e":1.5},{"s":"g","t":40,"m":-0.9,"e":1.5},{"s":"g","t":45,"m":-1.1,"e":1.5},{"s":"g","t":50,"m":-1.3,"e":1.5},{"s":"g","t":55,"m":-1.9,"e":1.5},{"s":"g","t":60,"m":-2.6,"e":1.5},{"s":"g","t":65,"m":-3.1,"e":1.5},{"s":"g","t":70,"m":-3.8,"e":1.5},{"s":"g","t":75,"m":-4.2,"e":1.5},{"s":"g","t":80,"m":-4.5,"e":1.5},{"s":"g","t":85,"m":-4.5,"e":1.5},{"s":"g","t":90,"m":-4.4,"e":1.5},{"s":"g","t":95,"m":-4.1,"e":1.5},{"s":"g","t":100,"m":-3.8,"e":1.5},{"s":"g","t":105,"m":-3.4,"e":1.5},{"s":"g","t":108,"m":-1.6,"e":1.5},{"s":"g","t":112,"m":-0.2,"e":1.5},{"s":"g","t":115,"m":0.9,"e":1.5},{"s":"g","t":120,"m":2.3,"e":1.5},{"s":"g","t":125,"m":2.9,"e":1.5},{"s":"g","t":130,"m":2.8,"e":1.5},{"s":"g","t":140,"m":1.9,"e":1.5},{"s":"g","t":150,"m":0.5,"e":1.5},{"s":"g","t":155,"m":-0.6,"e":1.5},{"s":"g","t":160,"m":-1.3,"e":1.5},{"s":"g","t":170,"m":-2.4,"e":1.5},{"s":"g","t":175,"m":-2.7,"e":1.5},
{"s":"y","t":-17.5,"m":-0.6,"e":1.5},{"s":"y","t":-10,"m":0.1,"e":1.5},{"s":"y","t":-5,"m":-0.9,"e":1.5},{"s":"y","t":0,"m":0.9,"e":1.5},{"s":"y","t":2.5,"m":0,"e":1.5},{"s":"y","t":5,"m":-5.2,"e":2},{"s":"y","t":8,"m":-11.3,"e":2.3},{"s":"y","t":11,"m":-14.2,"e":2.5},{"s":"y","t":14.5,"m":-17.8,"e":2.5},{"s":"y","t":17,"m":-14.9,"e":2.5},{"s":"y","t":20,"m":-9.9,"e":2.2},{"s":"y","t":22.5,"m":-6.3,"e":1.8},{"s":"y","t":25,"m":-4.9,"e":1.6},{"s":"y","t":30,"m":-3.1,"e":1.5},{"s":"y","t":35,"m":-1.6,"e":1.5},{"s":"y","t":40,"m":-0.9,"e":1.5},{"s":"y","t":45,"m":-0.6,"e":1.5},{"s":"y","t":50,"m":-0.9,"e":1.5},{"s":"y","t":60,"m":-2,"e":1.5},{"s":"y","t":70,"m":-3.1,"e":1.5},{"s":"y","t":80,"m":-3.8,"e":1.5},{"s":"y","t":90,"m":-4.5,"e":1.5},{"s":"y","t":95,"m":-4.9,"e":1.6},{"s":"y","t":100,"m":-5.6,"e":1.8},{"s":"y","t":104,"m":-6.3,"e":2.2},{"s":"y","t":107,"m":-4.2,"e":2},{"s":"y","t":110,"m":0.1,"e":1.6},{"s":"y","t":115,"m":1.9,"e":1.5},{"s":"y","t":120,"m":4.8,"e":1.5},{"s":"y","t":125,"m":5.9,"e":1.5},{"s":"y","t":130,"m":6,"e":1.5},{"s":"y","t":140,"m":4.8,"e":1.5},{"s":"y","t":150,"m":2.3,"e":1.5},{"s":"y","t":160,"m":0.1,"e":1.5},{"s":"y","t":170,"m":-1.3,"e":1.5},{"s":"y","t":175,"m":-1.6,"e":1.5}
],
"d24": [
{"s":"b","t":-17.5,"m":1.9,"e":2.2},{"s":"b","t":-10,"m":1.7,"e":2.2},{"s":"b","t":-5,"m":1.8,"e":2.2},{"s":"b","t":0,"m":1.4,"e":2.2},{"s":"b","t":5,"m":1.3,"e":2.2},{"s":"b","t":10,"m":1.3,"e":2.2},{"s":"b","t":15,"m":0,"e":2.2},{"s":"b","t":20,"m":0.7,"e":2.2},{"s":"b","t":25,"m":1.3,"e":2.2},{"s":"b","t":30,"m":1.8,"e":2.2},{"s":"b","t":35,"m":0.9,"e":2.2},{"s":"b","t":40,"m":1.3,"e":2.2},{"s":"b","t":45,"m":1.9,"e":2.2},{"s":"b","t":50,"m":1.5,"e":2.2},{"s":"b","t":55,"m":1.2,"e":2.2},{"s":"b","t":60,"m":1.5,"e":2.2},{"s":"b","t":65,"m":1.9,"e":2.2},{"s":"b","t":70,"m":2.4,"e":2.2},{"s":"b","t":80,"m":2.4,"e":2.2},{"s":"b","t":85,"m":2.1,"e":2.2},{"s":"b","t":90,"m":2.4,"e":2.2},{"s":"b","t":95,"m":2.7,"e":2.2},{"s":"b","t":100,"m":3.1,"e":2.2},{"s":"b","t":105,"m":2.7,"e":2.2},{"s":"b","t":110,"m":2.9,"e":2.2},{"s":"b","t":120,"m":2.1,"e":2.2},{"s":"b","t":130,"m":1.9,"e":2.2},{"s":"b","t":140,"m":2.1,"e":2.2},{"s":"b","t":145,"m":1.3,"e":2.2},{"s":"b","t":150,"m":1.4,"e":2.2},{"s":"b","t":155,"m":1.3,"e":2.2},{"s":"b","t":160,"m":0.7,"e":2.2},{"s":"b","t":165,"m":1.3,"e":2.2},{"s":"b","t":170,"m":1.4,"e":2.2},{"s":"b","t":175,"m":1,"e":2.2},
{"s":"k","t":-17.5,"m":0,"e":1.5},{"s":"k","t":-10,"m":-0.2,"e":1.5},{"s":"k","t":-5,"m":0,"e":1.5},{"s":"k","t":0,"m":0.1,"e":1.5},{"s":"k","t":5,"m":-0.5,"e":1.5},{"s":"k","t":10,"m":-1.6,"e":1.5},{"s":"k","t":15,"m":-2.2,"e":1.5},{"s":"k","t":20,"m":-2.8,"e":1.5},{"s":"k","t":25,"m":-1.9,"e":1.5},{"s":"k","t":30,"m":-0.9,"e":1.5},{"s":"k","t":35,"m":-0.5,"e":1.5},{"s":"k","t":40,"m":-0.2,"e":1.5},{"s":"k","t":45,"m":0.2,"e":1.5},{"s":"k","t":50,"m":0.4,"e":1.5},{"s":"k","t":55,"m":1,"e":1.5},{"s":"k","t":60,"m":1.3,"e":1.5},{"s":"k","t":65,"m":1.9,"e":1.5},{"s":"k","t":70,"m":2.3,"e":1.5},{"s":"k","t":75,"m":2.4,"e":1.5},{"s":"k","t":80,"m":1.8,"e":1.5},{"s":"k","t":85,"m":1.5,"e":1.5},{"s":"k","t":90,"m":2.1,"e":1.5},{"s":"k","t":95,"m":1.8,"e":1.5},{"s":"k","t":100,"m":1.9,"e":1.5},{"s":"k","t":110,"m":2.4,"e":1.5},{"s":"k","t":115,"m":3.3,"e":1.5},{"s":"k","t":120,"m":3.7,"e":1.5},{"s":"k","t":127,"m":4.2,"e":1.5},{"s":"k","t":135,"m":3.3,"e":1.5},{"s":"k","t":140,"m":3,"e":1.5},{"s":"k","t":145,"m":3.6,"e":1.5},{"s":"k","t":150,"m":4,"e":1.5},{"s":"k","t":155,"m":4.7,"e":1.5},{"s":"k","t":160,"m":4.1,"e":1.5},{"s":"k","t":165,"m":3.3,"e":1.5},{"s":"k","t":170,"m":2.7,"e":1.5},{"s":"k","t":175,"m":2.5,"e":1.5},
{"s":"r","t":-17.5,"m":0.1,"e":1.8},{"s":"r","t":-12,"m":0.6,"e":1.8},{"s":"r","t":-5,"m":0.3,"e":1.8},{"s":"r","t":0,"m":0.1,"e":1.8},{"s":"r","t":5,"m":0,"e":1.8},{"s":"r","t":10,"m":-0.2,"e":1.8},{"s":"r","t":15,"m":-1,"e":1.8},{"s":"r","t":20,"m":-2.2,"e":1.8},{"s":"r","t":22,"m":-2.3,"e":1.8},{"s":"r","t":25,"m":-1.6,"e":1.8},{"s":"r","t":30,"m":-0.7,"e":1.8},{"s":"r","t":35,"m":-0.2,"e":1.8},{"s":"r","t":40,"m":0.4,"e":1.8},{"s":"r","t":45,"m":0.7,"e":1.8},{"s":"r","t":50,"m":1,"e":1.8},{"s":"r","t":55,"m":1.8,"e":1.8},{"s":"r","t":60,"m":1.3,"e":1.8},{"s":"r","t":65,"m":1.4,"e":1.8},{"s":"r","t":70,"m":1.3,"e":1.8},{"s":"r","t":75,"m":1,"e":1.8},{"s":"r","t":80,"m":0.8,"e":1.8},{"s":"r","t":85,"m":0.7,"e":1.8},{"s":"r","t":90,"m":0.7,"e":1.8},{"s":"r","t":95,"m":1.2,"e":1.8},{"s":"r","t":100,"m":1.8,"e":1.8},{"s":"r","t":105,"m":1.9,"e":1.8},{"s":"r","t":110,"m":2.3,"e":1.8},{"s":"r","t":120,"m":2.7,"e":1.8},{"s":"r","t":130,"m":2.9,"e":1.8},{"s":"r","t":140,"m":3.3,"e":1.8},{"s":"r","t":145,"m":3,"e":1.8},{"s":"r","t":150,"m":2.5,"e":1.8},{"s":"r","t":155,"m":2.7,"e":1.8},{"s":"r","t":165,"m":2.5,"e":1.8},{"s":"r","t":170,"m":2.1,"e":1.8},{"s":"r","t":175,"m":2.1,"e":1.8}
],
"d31": [
{"s":"b","t":-17.5,"m":0.4,"e":1.5},{"s":"b","t":-10,"m":0.2,"e":1.5},{"s":"b","t":-5,"m":0.4,"e":1.5},{"s":"b","t":-2,"m":-0.2,"e":1.5},{"s":"b","t":0,"m":0.8,"e":1.5},{"s":"b","t":2.5,"m":-0.2,"e":1.6},{"s":"b","t":5,"m":-3.7,"e":2},{"s":"b","t":8,"m":-7,"e":2.4},{"s":"b","t":11,"m":-9.1,"e":2.5},{"s":"b","t":14.5,"m":-12.9,"e":2.6},{"s":"b","t":17,"m":-9.9,"e":2.5},{"s":"b","t":20,"m":-4.1,"e":2.2},{"s":"b","t":22.5,"m":-1.4,"e":1.8},{"s":"b","t":25,"m":-0.9,"e":1.5},{"s":"b","t":30,"m":-0.7,"e":1.5},{"s":"b","t":35,"m":-0.6,"e":1.5},{"s":"b","t":40,"m":-0.3,"e":1.5},{"s":"b","t":50,"m":-0.3,"e":1.5},{"s":"b","t":55,"m":-0.9,"e":1.5},{"s":"b","t":60,"m":-1.6,"e":1.5},{"s":"b","t":70,"m":-2.7,"e":1.6},{"s":"b","t":75,"m":-3,"e":1.7},{"s":"b","t":80,"m":-3.5,"e":1.8},{"s":"b","t":90,"m":-4.1,"e":2},{"s":"b","t":95,"m":-4.5,"e":2},{"s":"b","t":100,"m":-4.5,"e":2},{"s":"b","t":105,"m":-4.5,"e":2},{"s":"b","t":108,"m":-2.7,"e":2},{"s":"b","t":112,"m":-1.2,"e":1.8},{"s":"b","t":115,"m":-0.5,"e":1.7},{"s":"b","t":120,"m":0.9,"e":1.6},{"s":"b","t":125,"m":1.5,"e":1.6},{"s":"b","t":130,"m":1.4,"e":1.6},{"s":"b","t":140,"m":0.8,"e":1.6},{"s":"b","t":150,"m":0.4,"e":1.6},{"s":"b","t":160,"m":-0.7,"e":1.6},{"s":"b","t":170,"m":-1.8,"e":1.6},{"s":"b","t":175,"m":-2.3,"e":1.6},
{"s":"k","t":-17.5,"m":0.2,"e":1.2},{"s":"k","t":-10,"m":0.2,"e":1.2},{"s":"k","t":-5,"m":-0.1,"e":1.2},{"s":"k","t":0,"m":0.8,"e":1.2},{"s":"k","t":2.5,"m":0,"e":1.4},{"s":"k","t":5,"m":-4.8,"e":2},{"s":"k","t":8,"m":-9.9,"e":2.3},{"s":"k","t":11,"m":-12,"e":2.5},{"s":"k","t":14.5,"m":-17.2,"e":2.6},{"s":"k","t":17,"m":-14.2,"e":2.5},{"s":"k","t":20,"m":-8.4,"e":2.2},{"s":"k","t":22,"m":-4.5,"e":1.8},{"s":"k","t":25,"m":-3.7,"e":1.5},{"s":"k","t":30,"m":-2.7,"e":1.4},{"s":"k","t":35,"m":-1.9,"e":1.4},{"s":"k","t":40,"m":-1.2,"e":1.4},{"s":"k","t":45,"m":-0.9,"e":1.4},{"s":"k","t":50,"m":-0.9,"e":1.4},{"s":"k","t":60,"m":-1.9,"e":1.4},{"s":"k","t":70,"m":-3,"e":1.4},{"s":"k","t":80,"m":-3.4,"e":1.4},{"s":"k","t":90,"m":-3.5,"e":1.4},{"s":"k","t":95,"m":-3.7,"e":1.4},{"s":"k","t":100,"m":-4.5,"e":1.4},{"s":"k","t":105,"m":-4.1,"e":1.4},{"s":"k","t":108,"m":-1.9,"e":1.5},{"s":"k","t":112,"m":0.6,"e":1.6},{"s":"k","t":115,"m":1.7,"e":1.7},{"s":"k","t":120,"m":3.8,"e":1.8},{"s":"k","t":125,"m":5.1,"e":1.9},{"s":"k","t":130,"m":4.9,"e":1.9},{"s":"k","t":135,"m":4.2,"e":1.8},{"s":"k","t":140,"m":3.2,"e":1.6},{"s":"k","t":150,"m":1.7,"e":1.4},{"s":"k","t":160,"m":0,"e":1.4},{"s":"k","t":170,"m":-1.6,"e":1.4},{"s":"k","t":175,"m":-2.7,"e":1.4},
{"s":"r","t":-17.5,"m":-0.1,"e":1.2},{"s":"r","t":-15,"m":-0.5,"e":1.2},{"s":"r","t":-10,"m":0.2,"e":1.2},{"s":"r","t":-5,"m":-0.6,"e":1.2},{"s":"r","t":0,"m":0.9,"e":1.2},{"s":"r","t":2.5,"m":-0.2,"e":1.5},{"s":"r","t":5,"m":-6.3,"e":2.2},{"s":"r","t":8,"m":-11.3,"e":2.8},{"s":"r","t":11,"m":-14.2,"e":3},{"s":"r","t":14.5,"m":-21.7,"e":3.7},{"s":"r","t":17,"m":-18.5,"e":3.5},{"s":"r","t":20,"m":-12.7,"e":3},{"s":"r","t":22,"m":-9.9,"e":2.5},{"s":"r","t":25,"m":-8.4,"e":2.2},{"s":"r","t":30,"m":-6.3,"e":1.8},{"s":"r","t":35,"m":-4.8,"e":1.6},{"s":"r","t":40,"m":-2.5,"e":1.5},{"s":"r","t":45,"m":-1.8,"e":1.5},{"s":"r","t":50,"m":-1.2,"e":1.5},{"s":"r","t":55,"m":-1.6,"e":1.5},{"s":"r","t":60,"m":-1.8,"e":1.5},{"s":"r","t":70,"m":-2.3,"e":1.5},{"s":"r","t":75,"m":-2.3,"e":1.5},{"s":"r","t":80,"m":-2.5,"e":1.5},{"s":"r","t":90,"m":-1.9,"e":1.5},{"s":"r","t":95,"m":-1.4,"e":1.5},{"s":"r","t":100,"m":-1.2,"e":1.5},{"s":"r","t":102,"m":-1,"e":1.5},{"s":"r","t":105,"m":-1.6,"e":1.5},{"s":"r","t":108,"m":1.7,"e":1.5},{"s":"r","t":111,"m":5.3,"e":1.5},{"s":"r","t":115,"m":6,"e":1.5},{"s":"r","t":120,"m":8.8,"e":1.5},{"s":"r","t":125,"m":9.9,"e":1.5},{"s":"r","t":130,"m":9.8,"e":1.5},{"s":"r","t":140,"m":8.8,"e":1.5},{"s":"r","t":150,"m":6,"e":1.5},{"s":"r","t":160,"m":4.2,"e":1.5},{"s":"r","t":170,"m":2.7,"e":1.5},{"s":"r","t":175,"m":2.2,"e":1.5}
],
"d32": [
{"s":"b","t":-17.5,"m":0,"e":1.3},{"s":"b","t":-10,"m":0.2,"e":1.3},{"s":"b","t":-5,"m":0.3,"e":1.3},{"s":"b","t":0,"m":0,"e":1.3},{"s":"b","t":2.5,"m":1.3,"e":1.3},{"s":"b","t":5,"m":3.3,"e":1.3},{"s":"b","t":7.5,"m":3.9,"e":1.3},{"s":"b","t":10,"m":3.9,"e":1.3},{"s":"b","t":12.5,"m":4.2,"e":1.3},{"s":"b","t":15,"m":4.5,"e":1.3},{"s":"b","t":17.5,"m":3.6,"e":1.3},{"s":"b","t":20,"m":2.8,"e":1.3},{"s":"b","t":25,"m":2.8,"e":1.3},{"s":"b","t":30,"m":1.9,"e":1.3},{"s":"b","t":35,"m":1,"e":1.3},{"s":"b","t":40,"m":0.6,"e":1.3},{"s":"b","t":50,"m":0.5,"e":1.4},{"s":"b","t":60,"m":0.3,"e":1.6},{"s":"b","t":65,"m":0,"e":1.7},{"s":"b","t":70,"m":-0.1,"e":1.8},{"s":"b","t":75,"m":0.1,"e":1.8},{"s":"b","t":80,"m":0.1,"e":1.8},{"s":"b","t":85,"m":-0.3,"e":1.9},{"s":"b","t":90,"m":-0.5,"e":1.9},{"s":"b","t":100,"m":-0.2,"e":2},{"s":"b","t":103,"m":0.3,"e":2},{"s":"b","t":106,"m":0.1,"e":2.1},{"s":"b","t":110,"m":-1.6,"e":2.3},{"s":"b","t":115,"m":-1.8,"e":2.4},{"s":"b","t":120,"m":-3,"e":2.5},{"s":"b","t":125,"m":-3.6,"e":2.5},{"s":"b","t":130,"m":-3.3,"e":2.5},{"s":"b","t":135,"m":-2.8,"e":2.5},{"s":"b","t":140,"m":-2.4,"e":2.5},{"s":"b","t":145,"m":-1.8,"e":2.5},{"s":"b","t":150,"m":-0.7,"e":2.5},{"s":"b","t":155,"m":-0.5,"e":2.5},{"s":"b","t":160,"m":0,"e":2.5},{"s":"b","t":170,"m":0.3,"e":2.5},{"s":"b","t":175,"m":0.9,"e":2.5},
{"s":"r","t":-17.5,"m":-0.7,"e":1.3},{"s":"r","t":-10,"m":-0.3,"e":1.3},{"s":"r","t":-5,"m":-0.4,"e":1.3},{"s":"r","t":0,"m":0,"e":1.3},{"s":"r","t":2.5,"m":-0.7,"e":1.3},{"s":"r","t":5,"m":-2.7,"e":1.3},{"s":"r","t":7.5,"m":-3.3,"e":1.3},{"s":"r","t":10,"m":-3.6,"e":1.3},{"s":"r","t":12.5,"m":-4.4,"e":1.3},{"s":"r","t":15,"m":-4.9,"e":1.3},{"s":"r","t":17.5,"m":-4.5,"e":1.3},{"s":"r","t":20,"m":-4,"e":1.3},{"s":"r","t":25,"m":-3.6,"e":1.3},{"s":"r","t":30,"m":-2.4,"e":1.3},{"s":"r","t":35,"m":-2,"e":1.3},{"s":"r","t":40,"m":-1.6,"e":1.3},{"s":"r","t":45,"m":-1.3,"e":1.3},{"s":"r","t":50,"m":-0.4,"e":1.3},{"s":"r","t":55,"m":-0.3,"e":1.3},{"s":"r","t":60,"m":0,"e":1.3},{"s":"r","t":65,"m":0.5,"e":1.3},{"s":"r","t":70,"m":0.9,"e":1.3},{"s":"r","t":75,"m":1,"e":1.3},{"s":"r","t":80,"m":1.2,"e":1.3},{"s":"r","t":85,"m":1.2,"e":1.3},{"s":"r","t":90,"m":2,"e":1.3},{"s":"r","t":95,"m":2.5,"e":1.3},{"s":"r","t":100,"m":3,"e":1.3},{"s":"r","t":105,"m":2.9,"e":1.3},{"s":"r","t":110,"m":5.1,"e":1.3},{"s":"r","t":115,"m":4.5,"e":1.3},{"s":"r","t":120,"m":4.9,"e":1.3},{"s":"r","t":125,"m":4.8,"e":1.3},{"s":"r","t":130,"m":5.1,"e":1.3},{"s":"r","t":135,"m":5.5,"e":1.3},{"s":"r","t":140,"m":5.9,"e":1.3},{"s":"r","t":150,"m":5.3,"e":1.3},{"s":"r","t":160,"m":4.7,"e":1.3},{"s":"r","t":165,"m":4.2,"e":1.3},{"s":"r","t":170,"m":4.5,"e":1.3},{"s":"r","t":175,"m":4.8,"e":1.3}
],
"d33": [
{"s":"g","t":-17.5,"m":-1.2,"e":1.5},{"s":"g","t":-10,"m":-1.3,"e":1.5},{"s":"g","t":-5,"m":-1.1,"e":1.5},{"s":"g","t":0,"m":-0.1,"e":1.5},{"s":"g","t":2.5,"m":-0.8,"e":1.5},{"s":"g","t":5,"m":-2.7,"e":1.6},{"s":"g","t":8,"m":-5.5,"e":1.8},{"s":"g","t":11,"m":-7.7,"e":2},{"s":"g","t":14.5,"m":-11.3,"e":2},{"s":"g","t":17,"m":-8.4,"e":2},{"s":"g","t":20,"m":-2.7,"e":1.8},{"s":"g","t":22.5,"m":-0.5,"e":1.5},{"s":"g","t":25,"m":-0.9,"e":1.5},{"s":"g","t":30,"m":-1.2,"e":1.5},{"s":"g","t":35,"m":-1.2,"e":1.5},{"s":"g","t":40,"m":-1.1,"e":1.5},{"s":"g","t":50,"m":-0.9,"e":1.5},{"s":"g","t":55,"m":-1.1,"e":1.5},{"s":"g","t":60,"m":-1.6,"e":1.5},{"s":"g","t":70,"m":-2.3,"e":1.5},{"s":"g","t":80,"m":-2.5,"e":1.5},{"s":"g","t":90,"m":-2.5,"e":1.5},{"s":"g","t":100,"m":-2.3,"e":1.5},{"s":"g","t":105,"m":-2.7,"e":1.5},{"s":"g","t":108,"m":-1.6,"e":1.5},{"s":"g","t":112,"m":-0.5,"e":1.5},{"s":"g","t":115,"m":0.2,"e":1.5},{"s":"g","t":120,"m":2,"e":1.6},{"s":"g","t":125,"m":2.5,"e":1.6},{"s":"g","t":130,"m":2.4,"e":1.6},{"s":"g","t":140,"m":1.7,"e":1.6},{"s":"g","t":150,"m":0.9,"e":1.5},{"s":"g","t":160,"m":0.2,"e":1.5},{"s":"g","t":170,"m":-0.5,"e":1.5},{"s":"g","t":175,"m":-0.9,"e":1.5},
{"s":"y","t":-17.5,"m":-0.4,"e":1.5},{"s":"y","t":-10,"m":-0.6,"e":1.5},{"s":"y","t":-5,"m":-0.9,"e":1.5},{"s":"y","t":0,"m":0.2,"e":1.5},{"s":"y","t":2.5,"m":-0.7,"e":1.5},{"s":"y","t":5,"m":-5.5,"e":2},{"s":"y","t":8,"m":-10.6,"e":2.3},{"s":"y","t":11,"m":-12.7,"e":2.5},{"s":"y","t":14.5,"m":-18.8,"e":2.6},{"s":"y","t":17,"m":-15.6,"e":2.5},{"s":"y","t":20,"m":-8.4,"e":2.2},{"s":"y","t":22.5,"m":-4.8,"e":1.8},{"s":"y","t":25,"m":-3.7,"e":1.6},{"s":"y","t":30,"m":-2.7,"e":1.5},{"s":"y","t":35,"m":-1.9,"e":1.5},{"s":"y","t":40,"m":-1.1,"e":1.5},{"s":"y","t":45,"m":-0.7,"e":1.5},{"s":"y","t":50,"m":-0.5,"e":1.5},{"s":"y","t":55,"m":-1.2,"e":1.5},{"s":"y","t":60,"m":-2.3,"e":1.5},{"s":"y","t":65,"m":-3.7,"e":1.5},{"s":"y","t":70,"m":-4.5,"e":1.5},{"s":"y","t":75,"m":-5,"e":1.5},{"s":"y","t":80,"m":-5.2,"e":1.5},{"s":"y","t":90,"m":-5.4,"e":1.5},{"s":"y","t":95,"m":-5.2,"e":1.5},{"s":"y","t":100,"m":-4.8,"e":1.5},{"s":"y","t":105,"m":-4.8,"e":1.5},{"s":"y","t":108,"m":-2.7,"e":1.5},{"s":"y","t":111,"m":0.2,"e":1.5},{"s":"y","t":115,"m":2.4,"e":1.5},{"s":"y","t":120,"m":7,"e":1.5},{"s":"y","t":125,"m":8.1,"e":1.5},{"s":"y","t":130,"m":8.1,"e":1.5},{"s":"y","t":140,"m":6.7,"e":1.5},{"s":"y","t":150,"m":4.5,"e":1.5},{"s":"y","t":160,"m":2.4,"e":1.5},{"s":"y","t":170,"m":0.9,"e":1.5},{"s":"y","t":175,"m":0.2,"e":1.5}
],
"d34": [
{"s":"b","t":-17.5,"m":1.3,"e":1.8},{"s":"b","t":-12.5,"m":1.9,"e":1.8},{"s":"b","t":-10,"m":1.9,"e":1.8},{"s":"b","t":-5,"m":1.8,"e":1.8},{"s":"b","t":0,"m":2,"e":1.8},{"s":"b","t":2.5,"m":1.6,"e":1.8},{"s":"b","t":5,"m":0.7,"e":1.8},{"s":"b","t":10,"m":-0.4,"e":1.8},{"s":"b","t":15,"m":-1.6,"e":1.8},{"s":"b","t":17.5,"m":-2.1,"e":1.8},{"s":"b","t":20,"m":-1.8,"e":1.8},{"s":"b","t":22.5,"m":-1.2,"e":1.8},{"s":"b","t":25,"m":0.2,"e":1.8},{"s":"b","t":30,"m":1,"e":1.8},{"s":"b","t":35,"m":1,"e":1.8},{"s":"b","t":40,"m":1.2,"e":1.8},{"s":"b","t":45,"m":1.6,"e":1.8},{"s":"b","t":50,"m":1.3,"e":1.8},{"s":"b","t":55,"m":1.2,"e":1.8},{"s":"b","t":60,"m":0.9,"e":1.8},{"s":"b","t":65,"m":0.2,"e":1.8},{"s":"b","t":70,"m":-0.3,"e":1.8},{"s":"b","t":75,"m":-0.4,"e":1.8},{"s":"b","t":80,"m":-0.7,"e":1.8},{"s":"b","t":90,"m":-1.6,"e":1.8},{"s":"b","t":95,"m":-2.4,"e":1.8},{"s":"b","t":100,"m":-2.4,"e":1.8},{"s":"b","t":105,"m":-1.8,"e":1.8},{"s":"b","t":110,"m":-1.6,"e":1.8},{"s":"b","t":115,"m":-0.4,"e":1.8},{"s":"b","t":120,"m":-0.7,"e":1.8},{"s":"b","t":125,"m":-1,"e":1.8},{"s":"b","t":130,"m":-0.6,"e":1.8},{"s":"b","t":140,"m":-0.5,"e":1.8},{"s":"b","t":150,"m":-1,"e":1.8},{"s":"b","t":155,"m":-1.6,"e":1.8},{"s":"b","t":160,"m":-0.8,"e":1.8},{"s":"b","t":165,"m":-0.5,"e":1.8},{"s":"b","t":170,"m":-0.4,"e":1.8},{"s":"b","t":175,"m":-0.9,"e":1.8},
{"s":"k","t":-17.5,"m":0.5,"e":1.8},{"s":"k","t":-10,"m":0.2,"e":1.8},{"s":"k","t":-5,"m":-0.1,"e":1.8},{"s":"k","t":0,"m":0.5,"e":1.8},{"s":"k","t":5,"m":-0.4,"e":1.8},{"s":"k","t":10,"m":-1.3,"e":1.8},{"s":"k","t":15,"m":-2.7,"e":1.8},{"s":"k","t":17.5,"m":-3.4,"e":1.8},{"s":"k","t":20,"m":-3.6,"e":1.8},{"s":"k","t":22.5,"m":-3,"e":1.8},{"s":"k","t":25,"m":-0.4,"e":1.8},{"s":"k","t":30,"m":-0.1,"e":1.8},{"s":"k","t":35,"m":0.2,"e":1.8},{"s":"k","t":40,"m":0.1,"e":1.8},{"s":"k","t":45,"m":0.5,"e":1.8},{"s":"k","t":50,"m":0.5,"e":1.8},{"s":"k","t":55,"m":0.3,"e":1.8},{"s":"k","t":60,"m":0.5,"e":1.8},{"s":"k","t":65,"m":0.5,"e":1.8},{"s":"k","t":70,"m":0.5,"e":1.8},{"s":"k","t":80,"m":-0.1,"e":1.8},{"s":"k","t":85,"m":-0.3,"e":1.8},{"s":"k","t":90,"m":-0.7,"e":1.8},{"s":"k","t":95,"m":-1.6,"e":1.8},{"s":"k","t":100,"m":-2.1,"e":1.8},{"s":"k","t":105,"m":-2.3,"e":1.8},{"s":"k","t":110,"m":-1,"e":1.8},{"s":"k","t":113,"m":-0.1,"e":1.8},{"s":"k","t":117,"m":-0.7,"e":1.8},{"s":"k","t":120,"m":-0.7,"e":1.8},{"s":"k","t":125,"m":-1.6,"e":1.8},{"s":"k","t":130,"m":-1,"e":1.8},{"s":"k","t":140,"m":-1.3,"e":1.8},{"s":"k","t":150,"m":-2.1,"e":1.8},{"s":"k","t":155,"m":-1.8,"e":1.8},{"s":"k","t":160,"m":-2.2,"e":1.8},{"s":"k","t":165,"m":-2.8,"e":1.8},{"s":"k","t":170,"m":-3,"e":1.8},{"s":"k","t":175,"m":-3,"e":1.8},
{"s":"r","t":-17.5,"m":0,"e":1.8},{"s":"r","t":-10,"m":0.7,"e":1.8},{"s":"r","t":-5,"m":0.5,"e":1.8},{"s":"r","t":0,"m":0.5,"e":1.8},{"s":"r","t":5,"m":-0.4,"e":1.8},{"s":"r","t":10,"m":-0.7,"e":1.8},{"s":"r","t":15,"m":-2.4,"e":1.8},{"s":"r","t":17.5,"m":-3.3,"e":1.8},{"s":"r","t":20,"m":-3.7,"e":1.8},{"s":"r","t":22.5,"m":-3,"e":1.8},{"s":"r","t":25,"m":-0.7,"e":1.8},{"s":"r","t":30,"m":-0.5,"e":1.8},{"s":"r","t":40,"m":-0.6,"e":1.8},{"s":"r","t":50,"m":-1,"e":1.8},{"s":"r","t":55,"m":-0.7,"e":1.8},{"s":"r","t":60,"m":-0.3,"e":1.8},{"s":"r","t":65,"m":1.3,"e":1.8},{"s":"r","t":70,"m":2.5,"e":1.8},{"s":"r","t":75,"m":2.9,"e":1.8},{"s":"r","t":80,"m":2.9,"e":1.8},{"s":"r","t":85,"m":3.2,"e":1.8},{"s":"r","t":90,"m":3.6,"e":1.8},{"s":"r","t":95,"m":3.6,"e":1.8},{"s":"r","t":100,"m":3.3,"e":1.8},{"s":"r","t":105,"m":3,"e":1.8},{"s":"r","t":110,"m":3.2,"e":1.8},{"s":"r","t":115,"m":2.8,"e":1.8},{"s":"r","t":120,"m":1.9,"e":1.8},{"s":"r","t":125,"m":1.4,"e":1.8},{"s":"r","t":130,"m":1.5,"e":1.8},{"s":"r","t":140,"m":2.2,"e":1.8},{"s":"r","t":145,"m":2,"e":1.8},{"s":"r","t":150,"m":1.6,"e":1.8},{"s":"r","t":160,"m":1.3,"e":1.8},{"s":"r","t":165,"m":1.6,"e":1.8},{"s":"r","t":170,"m":1.9,"e":1.8},{"s":"r","t":175,"m":1.6,"e":1.8}
]
},
"columns": 4,
"spacing": {"row": 78.85, "column": 68.67},
"bounds": "flush",
"resolve": {"scale":{"x":"independent","y":"independent","color":"independent","strokeDash":"independent","opacity":"independent"},"axis":{"x":"independent","y":"independent"},"legend":{"color":"independent","strokeDash":"independent","opacity":"independent"}},
"concat": [
 {"width":366,"height":232,"title":{"text":"AEP Waveforms","frame":"group","offset":8.1},"data":{"name":"d11"},
  "encoding":{"x":{"field":"t","type":"quantitative","scale":{"domain":[-25,250],"nice":false,"zero":false},"axis":{"offset":-139.2,"values":[50,100,150,200,250],"title":"Time (ms)","titleX":183,"titleY":143,"titleAlign":"center","titleBaseline":"alphabetic"}},
   "y":{"field":"m","type":"quantitative","scale":{"domain":[-30,20],"nice":false,"zero":false},"axis":{"offset":-33.27,"values":[-30,-20,-10,10,20],"title":"Potential (µV)","titleX":-70.4,"titleY":116,"titleAlign":"center","titleBaseline":"alphabetic","titleAngle":-90}}},
  "layer":[
   {"transform":[{"filter":{"field":"s","equal":"b"}}],"mark":{"type":"errorband","opacity":0.4,"color":"#0000cc"},"encoding":{"yError":{"field":"e"}}},
   {"transform":[{"filter":{"field":"s","equal":"k"}}],"mark":{"type":"errorband","opacity":0.4,"color":"#000000"},"encoding":{"yError":{"field":"e"}}},
   {"transform":[{"filter":{"field":"s","equal":"r"}}],"mark":{"type":"errorband","opacity":0.4,"color":"#cc0000"},"encoding":{"yError":{"field":"e"}}},
   {"mark":{"type":"line","strokeWidth":2.7,"strokeJoin":"round"},"encoding":{
    "color":{"field":"s","type":"nominal","scale":{"domain":["b","k","r"],"range":["#0000cc","#000000","#cc0000"]},"legend":{"title":null,"symbolType":"stroke","legendX":212.8,"legendY":158.4,"labelExpr":"datum.label=='b'?'50 ms':datum.label=='k'?'100 ms':'150 ms'"}},
    "strokeDash":{"field":"s","type":"nominal","scale":{"domain":["b","k","r","z"],"range":[[1,0],[1,0],[1,0],[1,0]]},"legend":{"title":null,"symbolType":"stroke","legendX":212.8,"legendY":158.4,"values":["b","k","r"],"labelFontStyle":"italic","symbolSize":400,"symbolStrokeWidth":0,"labelExpr":"datum.label=='b'?'\u200b\u2007\u2007\u2008\u2003\u2002\u2008DEV':datum.label=='k'?'\u200b\u2007\u2007\u2007\u2008\u2003\u2002\u2008STD':'\u200b\u2007\u2007\u2007\u2008\u2003\u2002\u2008DEV'"}},
    "opacity":{"field":"s","type":"nominal","scale":{"domain":["b","k","r","z","w"],"range":[1,1]},"legend":{"title":null,"symbolType":"stroke","legendX":212.8,"legendY":163,"rowPadding":4.7,"values":["b","k","r"],"labelFontStyle":"italic","labelFontSize":10.5,"symbolSize":400,"symbolStrokeWidth":0,"labelExpr":"datum.label=='b'?'\u200b\u2003\u2003\u2003\u2003\u2003\u2003\u2003\u2007\u2009OD':datum.label=='k'?'\u200b\u2003\u2003\u2003\u2003\u2003\u2003\u2003\u2003\u2007OD':'\u200b\u2003\u2003\u2003\u2003\u2003\u2003\u2003\u2003\u2002\u2005OD'"}}}}
  ]},
 {"width":366,"height":232,"data":{"name":"d12"},
  "encoding":{"x":{"field":"t","type":"quantitative","scale":{"domain":[-25,250],"nice":false,"zero":false},"axis":{"offset":-116,"values":[50,100,150,200,250],"title":"a)","titleX":314,"titleY":-162.6,"titleAlign":"left","titleBaseline":"alphabetic","titleFontSize":20.5,"titleFontWeight":"bold"}},
   "y":{"field":"m","type":"quantitative","scale":{"domain":[-20,20],"nice":false,"zero":false},"axis":{"offset":-33.27,"values":[-20,-10,10,20],"title":"Classical MMR","titleX":149.73,"titleY":-18.3,"titleAngle":0,"titleAlign":"center","titleBaseline":"alphabetic","titleFontSize":20.5,"titleFontStyle":"italic"}}},
  "layer":[
   {"transform":[{"filter":{"field":"s","equal":"b"}}],"mark":{"type":"errorband","opacity":0.4,"color":"#0000cc"},"encoding":{"yError":{"field":"e"}}},
   {"transform":[{"filter":{"field":"s","equal":"r"}}],"mark":{"type":"errorband","opacity":0.4,"color":"#cc0000"},"encoding":{"yError":{"field":"e"}}},
   {"mark":{"type":"line","strokeWidth":2.7,"strokeJoin":"round"},"encoding":{
    "color":{"field":"s","type":"nominal","scale":{"domain":["b","r"],"range":["#0000cc","#cc0000"]},"legend":{"title":null,"symbolType":"stroke","legendX":188.5,"legendY":200.7,"labelExpr":"datum.label=='b'?'50 ms':'150 ms'"}},
    "strokeDash":{"field":"s","type":"nominal","scale":{"domain":["b","r","z"],"range":[[1,0],[1,0],[1,0]]},"legend":{"title":null,"symbolType":"stroke","legendX":188.5,"legendY":200.7,"values":["b","r"],"labelFontStyle":"italic","symbolSize":400,"symbolStrokeWidth":0,"labelExpr":"datum.label=='b'?'\u200b\u2007\u2007\u2008\u2003\u2002\u2008MMR':'\u200b\u2007\u2007\u2007\u2008\u2003\u2002\u2008MMR'"}},
    "opacity":{"field":"s","type":"nominal","scale":{"domain":["b","r","z","w"],"range":[1,1]},"legend":{"title":null,"symbolType":"stroke","legendX":188.5,"legendY":205.3,"rowPadding":4.7,"values":["b","r"],"labelFontStyle":"italic","labelFontSize":10.5,"symbolSize":400,"symbolStrokeWidth":0,"labelExpr":"datum.label=='b'?'\u200b\u2003\u2003\u2003\u2003\u2003\u2003\u2003\u2003\u2008classic':'\u200b\u2003\u2003\u2003\u2003\u2003\u2003\u2003\u2003\u2003\u2005classic'"}}}},
   {"data":{"values":[{"t":55,"t2":110,"m":16.65}]},"mark":{"type":"rule","color":"#0000ff","strokeWidth":8},"encoding":{"x2":{"field":"t2"}}},
   {"data":{"values":[{"t":109,"t2":153,"m":18.7},{"t":166,"t2":225,"m":18.7}]},"mark":{"type":"rule","color":"#ff0000","strokeWidth":8},"encoding":{"x2":{"field":"t2"}}}
  ]},
 {"width":366,"height":232,"data":{"name":"d13"},
  "encoding":{"x":{"field":"t","type":"quantitative","scale":{"domain":[-25,250],"nice":false,"zero":false},"axis":{"offset":-139.2,"values":[50,100,150,200,250],"title":"Duration","titleX":-90.5,"titleY":-139.4,"titleAlign":"left","titleBaseline":"alphabetic","titleFontSize":20.5}},
   "y":{"field":"m","type":"quantitative","scale":{"domain":[-30,20],"nice":false,"zero":false},"axis":{"offset":-33.27,"values":[-30,-20,-10,10,20],"title":"AEP Waveforms","titleX":149.73,"titleY":-18.3,"titleAngle":0,"titleAlign":"center","titleBaseline":"alphabetic","titleFontSize":20.5,"titleFontStyle":"italic"}}},
  "layer":[
   {"data":{"name":"d11"},"transform":[{"filter":{"field":"s","equal":"b"}}],"mark":{"type":"errorband","opacity":0.4,"color":"#0000cc"},"encoding":{"yError":{"field":"e"}}},
   {"data":{"name":"d11"},"transform":[{"filter":{"field":"s","equal":"r"}}],"mark":{"type":"errorband","opacity":0.4,"color":"#cc0000"},"encoding":{"yError":{"field":"e"}}},
   {"transform":[{"filter":{"field":"s","equal":"g"}}],"mark":{"type":"errorband","opacity":0.4,"color":"#00cc00"},"encoding":{"yError":{"field":"e"}}},
   {"transform":[{"filter":{"field":"s","equal":"y"}}],"mark":{"type":"errorband","opacity":0.4,"color":"#cccc00"},"encoding":{"yError":{"field":"e"}}},
   {"data":{"name":"d11"},"transform":[{"filter":{"field":"s","oneOf":["b","r"]}}],"mark":{"type":"line","strokeWidth":2.7,"strokeJoin":"round"},"encoding":{
    "color":{"field":"s","type":"nominal","scale":{"domain":["b","r","g","y"],"range":["#0000cc","#cc0000","#00cc00","#cccc00"]},"legend":{"title":null,"symbolType":"stroke","legendX":207.3,"legendY":159,"labelExpr":"datum.label=='b'||datum.label=='g'?'50 ms':'150 ms'"}},
    "strokeDash":{"field":"s","type":"nominal","scale":{"domain":["b","r","g","y","z"],"range":[[1,0],[1,0],[1,0],[1,0],[1,0]]},"legend":{"title":null,"symbolType":"stroke","legendX":207.3,"legendY":159,"values":["b","r","g","y"],"labelFontStyle":"italic","symbolSize":400,"symbolStrokeWidth":0,"labelExpr":"datum.label=='b'||datum.label=='g'?'\u200b\u2007\u2007\u2008\u2003\u2002\u2008DEV':'\u200b\u2007\u2007\u2007\u2008\u2003\u2002\u2008DEV'"}},
    "opacity":{"field":"s","type":"nominal","scale":{"domain":["b","r","g","y","z","w"],"range":[1,1]},"legend":{"title":null,"symbolType":"stroke","legendX":207.3,"legendY":163.6,"rowPadding":4.7,"values":["b","r","g","y"],"labelFontStyle":"italic","labelFontSize":10.5,"symbolSize":400,"symbolStrokeWidth":0,"labelExpr":"datum.label=='b'?'\u200b\u2003\u2003\u2003\u2003\u2003\u2003\u2003\u2007\u2009OD':datum.label=='r'?'\u200b\u2003\u2003\u2003\u2003\u2003\u2003\u2003\u2003\u2002\u2005OD':datum.label=='g'?'\u200b\u2003\u2003\u2003\u2003\u2003\u2003\u2003\u2007\u2009CTR':'\u200b\u2003\u2003\u2003\u2003\u2003\u2003\u2003\u2003\u2002\u2005CTR'"}}}},
   {"mark":{"type":"line","strokeWidth":2.7,"strokeJoin":"round"},"encoding":{
    "color":{"field":"s","type":"nominal","scale":{"domain":["b","r","g","y"],"range":["#0000cc","#cc0000","#00cc00","#cccc00"]},"legend":{"title":null,"symbolType":"stroke","legendX":207.3,"legendY":159,"labelExpr":"datum.label=='b'||datum.label=='g'?'50 ms':'150 ms'"}},
    "strokeDash":{"field":"s","type":"nominal","scale":{"domain":["b","r","g","y","z"],"range":[[1,0],[1,0],[1,0],[1,0],[1,0]]},"legend":{"title":null,"symbolType":"stroke","legendX":207.3,"legendY":159,"values":["b","r","g","y"],"labelFontStyle":"italic","symbolSize":400,"symbolStrokeWidth":0,"labelExpr":"datum.label=='b'||datum.label=='g'?'\u200b\u2007\u2007\u2008\u2003\u2002\u2008DEV':'\u200b\u2007\u2007\u2007\u2008\u2003\u2002\u2008DEV'"}},
    "opacity":{"field":"s","type":"nominal","scale":{"domain":["b","r","g","y","z","w"],"range":[1,1]},"legend":{"title":null,"symbolType":"stroke","legendX":207.3,"legendY":163.6,"rowPadding":4.7,"values":["b","r","g","y"],"labelFontStyle":"italic","labelFontSize":10.5,"symbolSize":400,"symbolStrokeWidth":0,"labelExpr":"datum.label=='b'?'\u200b\u2003\u2003\u2003\u2003\u2003\u2003\u2003\u2007\u2009OD':datum.label=='r'?'\u200b\u2003\u2003\u2003\u2003\u2003\u2003\u2003\u2003\u2002\u2005OD':datum.label=='g'?'\u200b\u2003\u2003\u2003\u2003\u2003\u2003\u2003\u2007\u2009CTR':'\u200b\u2003\u2003\u2003\u2003\u2003\u2003\u2003\u2003\u2002\u2005CTR'"}}}}
  ]},
 {"width":366,"height":232,"data":{"name":"d14"},
  "encoding":{"x":{"field":"t","type":"quantitative","scale":{"domain":[-25,250],"nice":false,"zero":false},"axis":{"offset":-116,"values":[50,100,150,200,250],"title":"Page 50 of 52","titleX":386,"titleY":-130,"titleAlign":"right","titleBaseline":"alphabetic","titleFont":"Lato","titleFontSize":25}},
   "y":{"field":"m","type":"quantitative","scale":{"domain":[-20,20],"nice":false,"zero":false},"axis":{"offset":-33.27,"values":[-20,-10,10,20],"title":"Controlled MMR","titleX":149.73,"titleY":-18.3,"titleAngle":0,"titleAlign":"center","titleBaseline":"alphabetic","titleFontSize":20.5,"titleFontStyle":"italic"}}},
  "layer":[
   {"transform":[{"filter":{"field":"s","equal":"b"}}],"mark":{"type":"errorband","opacity":0.4,"color":"#0000cc"},"encoding":{"yError":{"field":"e"}}},
   {"transform":[{"filter":{"field":"s","equal":"k"}}],"mark":{"type":"errorband","opacity":0.4,"color":"#000000"},"encoding":{"yError":{"field":"e"}}},
   {"transform":[{"filter":{"field":"s","equal":"r"}}],"mark":{"type":"errorband","opacity":0.4,"color":"#cc0000"},"encoding":{"yError":{"field":"e"}}},
   {"mark":{"type":"line","strokeWidth":2.7,"strokeJoin":"round"},"encoding":{
    "color":{"field":"s","type":"nominal","scale":{"domain":["b","k","r"],"range":["#0000cc","#000000","#cc0000"]},"legend":{"title":null,"symbolType":"stroke","legendX":185.5,"legendY":180.7,"labelExpr":"datum.label=='b'?'50 ms':datum.label=='k'?'100 ms':'150 ms'"}},
    "strokeDash":{"field":"s","type":"nominal","scale":{"domain":["b","k","r","z"],"range":[[1,0],[1,0],[1,0],[1,0]]},"legend":{"title":null,"symbolType":"stroke","legendX":185.5,"legendY":180.7,"values":["b","k","r"],"labelFontStyle":"italic","symbolSize":400,"symbolStrokeWidth":0,"labelExpr":"datum.label=='b'?'\u200b\u2007\u2007\u2008\u2003\u2002\u2008MMR':datum.label=='k'?'\u200b\u2007\u2007\u2007\u2008\u2003\u2002\u2008STD':'\u200b\u2007\u2007\u2007\u2008\u2003\u2002\u2008MMR'"}},
    "opacity":{"field":"s","type":"nominal","scale":{"domain":["b","k","r","z","w"],"range":[1,1]},"legend":{"title":null,"symbolType":"stroke","legendX":185.5,"legendY":185.3,"rowPadding":4.7,"values":["b","k","r"],"labelFontStyle":"italic","labelFontSize":10.5,"symbolSize":400,"symbolStrokeWidth":0,"labelExpr":"datum.label=='b'?'\u200b\u2003\u2003\u2003\u2003\u2003\u2003\u2003\u2003\u2008control':datum.label=='k'?'\u200b\u2003\u2003\u2003\u2003\u2003\u2003\u2003\u2003\u2007control':'\u200b\u2003\u2003\u2003\u2003\u2003\u2003\u2003\u2003\u2003\u2005control'"}}}}
  ]},
 {"width":366,"height":232,"data":{"name":"d21"},
  "encoding":{"x":{"field":"t","type":"quantitative","scale":{"domain":[-17.5,175],"nice":false,"zero":false},"axis":{"offset":-139.2,"values":[25,50,75,100,125,150,175],"title":null}},
   "y":{"field":"m","type":"quantitative","scale":{"domain":[-30,20],"nice":false,"zero":false},"axis":{"offset":-33.27,"values":[-30,-20,-10,10,20],"title":null}}},
  "layer":[
   {"transform":[{"filter":{"field":"s","equal":"b"}}],"mark":{"type":"errorband","opacity":0.4,"color":"#0000cc"},"encoding":{"yError":{"field":"e"}}},
   {"transform":[{"filter":{"field":"s","equal":"k"}}],"mark":{"type":"errorband","opacity":0.4,"color":"#000000"},"encoding":{"yError":{"field":"e"}}},
   {"transform":[{"filter":{"field":"s","equal":"r"}}],"mark":{"type":"errorband","opacity":0.4,"color":"#cc0000"},"encoding":{"yError":{"field":"e"}}},
   {"mark":{"type":"line","strokeWidth":2.7,"strokeJoin":"round"},"encoding":{
    "color":{"field":"s","type":"nominal","scale":{"domain":["b","k","r"],"range":["#0000cc","#000000","#cc0000"]},"legend":{"title":null,"symbolType":"stroke","legendX":201.8,"legendY":156.4,"labelExpr":"datum.label=='b'?'7.5 kHz':datum.label=='k'?'10 kHz':'12.5 kHz'"}},
    "strokeDash":{"field":"s","type":"nominal","scale":{"domain":["b","k","r","z"],"range":[[1,0],[1,0],[1,0],[1,0]]},"legend":{"title":null,"symbolType":"stroke","legendX":201.8,"legendY":156.4,"values":["b","k","r"],"labelFontStyle":"italic","symbolSize":400,"symbolStrokeWidth":0,"labelExpr":"datum.label=='b'?'\u200b\u2007\u2008\u2007\u2008\u2003\u2002\u2005\u200a\u2008DEV':datum.label=='k'?'\u200b\u2007\u2007\u2008\u2003\u2002\u2005\u200a\u2008STD':'\u200b\u2007\u2007\u2008\u2007\u2008\u2003\u2002\u2005\u200a\u2008DEV'"}},
    "opacity":{"field":"s","type":"nominal","scale":{"domain":["b","k","r","z","w"],"range":[1,1]},"legend":{"title":null,"symbolType":"stroke","legendX":201.8,"legendY":161,"rowPadding":4.7,"values":["b","k","r"],"labelFontStyle":"italic","labelFontSize":10.5,"symbolSize":400,"symbolStrokeWidth":0,"labelExpr":"datum.label=='b'?'\u200b\u2003\u2003\u2003\u2003\u2003\u2003\u2003\u2003\u2007\u2006OD':datum.label=='k'?'\u200b\u2003\u2003\u2003\u2003\u2003\u2003\u2003\u2003\u2005OD':'\u200b\u2003\u2003\u2003\u2003\u2003\u2003\u2003\u2003\u2003\u2002\u2009OD'"}}}}
  ]},
 {"width":366,"height":232,"data":{"name":"d22"},
  "encoding":{"x":{"field":"t","type":"quantitative","scale":{"domain":[-17.5,175],"nice":false,"zero":false},"axis":{"offset":-116,"values":[25,50,75,100,125,150,175],"title":"b)","titleX":303,"titleY":-147,"titleAlign":"left","titleBaseline":"alphabetic","titleFontSize":20.5,"titleFontWeight":"bold"}},
   "y":{"field":"m","type":"quantitative","scale":{"domain":[-20,20],"nice":false,"zero":false},"axis":{"offset":-33.27,"values":[-20,-10,10,20],"title":null}}},
  "layer":[
   {"transform":[{"filter":{"field":"s","equal":"b"}}],"mark":{"type":"errorband","opacity":0.4,"color":"#0000cc"},"encoding":{"yError":{"field":"e"}}},
   {"transform":[{"filter":{"field":"s","equal":"r"}}],"mark":{"type":"errorband","opacity":0.4,"color":"#cc0000"},"encoding":{"yError":{"field":"e"}}},
   {"mark":{"type":"line","strokeWidth":2.7,"strokeJoin":"round"},"encoding":{
    "color":{"field":"s","type":"nominal","scale":{"domain":["b","r"],"range":["#0000cc","#cc0000"]},"legend":{"title":null,"symbolType":"stroke","legendX":177.8,"legendY":176.4,"labelExpr":"datum.label=='b'?'7.5 kHz':'12.5 kHz'"}},
    "strokeDash":{"field":"s","type":"nominal","scale":{"domain":["b","r","z"],"range":[[1,0],[1,0],[1,0]]},"legend":{"title":null,"symbolType":"stroke","legendX":177.8,"legendY":176.4,"values":["b","r"],"labelFontStyle":"italic","symbolSize":400,"symbolStrokeWidth":0,"labelExpr":"datum.label=='b'?'\u200b\u2007\u2008\u2007\u2008\u2003\u2002\u2005\u200a\u2008MMR':'\u200b\u2007\u2007\u2008\u2007\u2008\u2003\u2002\u2005\u200a\u2008MMR'"}},
    "opacity":{"field":"s","type":"nominal","scale":{"domain":["b","r","z","w"],"range":[1,1]},"legend":{"title":null,"symbolType":"stroke","legendX":177.8,"legendY":181,"rowPadding":4.7,"values":["b","r"],"labelFontStyle":"italic","labelFontSize":10.5,"symbolSize":400,"symbolStrokeWidth":0,"labelExpr":"datum.label=='b'?'\u200b\u2003\u2003\u2003\u2003\u2003\u2003\u2003\u2003\u2003\u2008classic':'\u200b\u2003\u2003\u2003\u2003\u2003\u2003\u2003\u2003\u2003\u2003\u2009classic'"}}}}
  ]},
 {"width":366,"height":232,"data":{"name":"d23"},
  "encoding":{"x":{"field":"t","type":"quantitative","scale":{"domain":[-17.5,175],"nice":false,"zero":false},"axis":{"offset":-139.2,"values":[25,50,75,100,125,150,175],"title":"Frequency","titleX":-101.5,"titleY":-123.8,"titleAlign":"left","titleBaseline":"alphabetic","titleFontSize":20.5}},
   "y":{"field":"m","type":"quantitative","scale":{"domain":[-30,20],"nice":false,"zero":false},"axis":{"offset":-33.27,"values":[-30,-20,-10,10,20],"title":null}}},
  "layer":[
   {"data":{"name":"d21"},"transform":[{"filter":{"field":"s","equal":"b"}}],"mark":{"type":"errorband","opacity":0.4,"color":"#0000cc"},"encoding":{"yError":{"field":"e"}}},
   {"data":{"name":"d21"},"transform":[{"filter":{"field":"s","equal":"r"}}],"mark":{"type":"errorband","opacity":0.4,"color":"#cc0000"},"encoding":{"yError":{"field":"e"}}},
   {"transform":[{"filter":{"field":"s","equal":"g"}}],"mark":{"type":"errorband","opacity":0.4,"color":"#00cc00"},"encoding":{"yError":{"field":"e"}}},
   {"transform":[{"filter":{"field":"s","equal":"y"}}],"mark":{"type":"errorband","opacity":0.4,"color":"#cccc00"},"encoding":{"yError":{"field":"e"}}},
   {"data":{"name":"d21"},"transform":[{"filter":{"field":"s","oneOf":["b","r"]}}],"mark":{"type":"line","strokeWidth":2.7,"strokeJoin":"round"},"encoding":{
    "color":{"field":"s","type":"nominal","scale":{"domain":["b","r","g","y"],"range":["#0000cc","#cc0000","#00cc00","#cccc00"]},"legend":{"title":null,"symbolType":"stroke","legendX":196.3,"legendY":159,"labelExpr":"datum.label=='b'||datum.label=='g'?'7.5 kHz':'12.5 kHz'"}},
    "strokeDash":{"field":"s","type":"nominal","scale":{"domain":["b","r","g","y","z"],"range":[[1,0],[1,0],[1,0],[1,0],[1,0]]},"legend":{"title":null,"symbolType":"stroke","legendX":196.3,"legendY":159,"values":["b","r","g","y"],"labelFontStyle":"italic","symbolSize":400,"symbolStrokeWidth":0,"labelExpr":"datum.label=='b'||datum.label=='g'?'\u200b\u2007\u2008\u2007\u2008\u2003\u2002\u2005\u200a\u2008DEV':'\u200b\u2007\u2007\u2008\u2007\u2008\u2003\u2002\u2005\u200a\u2008DEV'"}},
    "opacity":{"field":"s","type":"nominal","scale":{"domain":["b","r","g","y","z","w"],"range":[1,1]},"legend":{"title":null,"symbolType":"stroke","legendX":196.3,"legendY":163.6,"rowPadding":4.7,"values":["b","r","g","y"],"labelFontStyle":"italic","labelFontSize":10.5,"symbolSize":400,"symbolStrokeWidth":0,"labelExpr":"datum.label=='b'?'\u200b\u2003\u2003\u2003\u2003\u2003\u2003\u2003\u2003\u2007\u2006OD':datum.label=='r'?'\u200b\u2003\u2003\u2003\u2003\u2003\u2003\u2003\u2003\u2003\u2002\u2009OD':datum.label=='g'?'\u200b\u2003\u2003\u2003\u2003\u2003\u2003\u2003\u2003\u2007\u2006CTR':'\u200b\u2003\u2003\u2003\u2003\u2003\u2003\u2003\u2003\u2003\u2002\u2009CTR'"}}}},
   {"mark":{"type":"line","strokeWidth":2.7,"strokeJoin":"round"},"encoding":{
    "color":{"field":"s","type":"nominal","scale":{"domain":["b","r","g","y"],"range":["#0000cc","#cc0000","#00cc00","#cccc00"]},"legend":{"title":null,"symbolType":"stroke","legendX":196.3,"legendY":159,"labelExpr":"datum.label=='b'||datum.label=='g'?'7.5 kHz':'12.5 kHz'"}},
    "strokeDash":{"field":"s","type":"nominal","scale":{"domain":["b","r","g","y","z"],"range":[[1,0],[1,0],[1,0],[1,0],[1,0]]},"legend":{"title":null,"symbolType":"stroke","legendX":196.3,"legendY":159,"values":["b","r","g","y"],"labelFontStyle":"italic","symbolSize":400,"symbolStrokeWidth":0,"labelExpr":"datum.label=='b'||datum.label=='g'?'\u200b\u2007\u2008\u2007\u2008\u2003\u2002\u2005\u200a\u2008DEV':'\u200b\u2007\u2007\u2008\u2007\u2008\u2003\u2002\u2005\u200a\u2008DEV'"}},
    "opacity":{"field":"s","type":"nominal","scale":{"domain":["b","r","g","y","z","w"],"range":[1,1]},"legend":{"title":null,"symbolType":"stroke","legendX":196.3,"legendY":163.6,"rowPadding":4.7,"values":["b","r","g","y"],"labelFontStyle":"italic","labelFontSize":10.5,"symbolSize":400,"symbolStrokeWidth":0,"labelExpr":"datum.label=='b'?'\u200b\u2003\u2003\u2003\u2003\u2003\u2003\u2003\u2003\u2007\u2006OD':datum.label=='r'?'\u200b\u2003\u2003\u2003\u2003\u2003\u2003\u2003\u2003\u2003\u2002\u2009OD':datum.label=='g'?'\u200b\u2003\u2003\u2003\u2003\u2003\u2003\u2003\u2003\u2007\u2006CTR':'\u200b\u2003\u2003\u2003\u2003\u2003\u2003\u2003\u2003\u2003\u2002\u2009CTR'"}}}}
  ]},
 {"width":366,"height":232,"data":{"name":"d24"},
  "encoding":{"x":{"field":"t","type":"quantitative","scale":{"domain":[-17.5,175],"nice":false,"zero":false},"axis":{"offset":-116,"values":[25,50,75,100,125,150,175],"title":null}},
   "y":{"field":"m","type":"quantitative","scale":{"domain":[-20,20],"nice":false,"zero":false},"axis":{"offset":-33.27,"values":[-20,-10,10,20],"title":null}}},
  "layer":[
   {"transform":[{"filter":{"field":"s","equal":"b"}}],"mark":{"type":"errorband","opacity":0.4,"color":"#0000cc"},"encoding":{"yError":{"field":"e"}}},
   {"transform":[{"filter":{"field":"s","equal":"k"}}],"mark":{"type":"errorband","opacity":0.4,"color":"#000000"},"encoding":{"yError":{"field":"e"}}},
   {"transform":[{"filter":{"field":"s","equal":"r"}}],"mark":{"type":"errorband","opacity":0.4,"color":"#cc0000"},"encoding":{"yError":{"field":"e"}}},
   {"mark":{"type":"line","strokeWidth":2.7,"strokeJoin":"round"},"encoding":{
    "color":{"field":"s","type":"nominal","scale":{"domain":["b","k","r"],"range":["#0000cc","#000000","#cc0000"]},"legend":{"title":null,"symbolType":"stroke","legendX":175.2,"legendY":180,"labelExpr":"datum.label=='b'?'7.5 kHz':datum.label=='k'?'10 kHz':'12.5 kHz'"}},
    "strokeDash":{"field":"s","type":"nominal","scale":{"domain":["b","k","r","z"],"range":[[1,0],[1,0],[1,0],[1,0]]},"legend":{"title":null,"symbolType":"stroke","legendX":175.2,"legendY":180,"values":["b","k","r"],"labelFontStyle":"italic","symbolSize":400,"symbolStrokeWidth":0,"labelExpr":"datum.label=='b'?'\u200b\u2007\u2008\u2007\u2008\u2003\u2002\u2005\u200a\u2008MMR':datum.label=='k'?'\u200b\u2007\u2007\u2008\u2003\u2002\u2005\u200a\u2008STD':'\u200b\u2007\u2007\u2008\u2007\u2008\u2003\u2002\u2005\u200a\u2008MMR'"}},
    "opacity":{"field":"s","type":"nominal","scale":{"domain":["b","k","r","z","w"],"range":[1,1]},"legend":{"title":null,"symbolType":"stroke","legendX":175.2,"legendY":184.6,"rowPadding":4.7,"values":["b","k","r"],"labelFontStyle":"italic","labelFontSize":10.5,"symbolSize":400,"symbolStrokeWidth":0,"labelExpr":"datum.label=='b'?'\u200b\u2003\u2003\u2003\u2003\u2003\u2003\u2003\u2003\u2003\u2008control':datum.label=='k'?'\u200b\u2003\u2003\u2003\u2003\u2003\u2003\u2003\u2003\u2005control':'\u200b\u2003\u2003\u2003\u2003\u2003\u2003\u2003\u2003\u2003\u2003\u2009control'"}}}}
  ]},
 {"width":366,"height":232,"data":{"name":"d31"},
  "encoding":{"x":{"field":"t","type":"quantitative","scale":{"domain":[-17.5,175],"nice":false,"zero":false},"axis":{"offset":-139.2,"values":[25,50,75,100,125,150,175],"title":null}},
   "y":{"field":"m","type":"quantitative","scale":{"domain":[-30,20],"nice":false,"zero":false},"axis":{"offset":-33.27,"values":[-30,-20,-10,10,20],"title":null}}},
  "layer":[
   {"transform":[{"filter":{"field":"s","equal":"b"}}],"mark":{"type":"errorband","opacity":0.4,"color":"#0000cc"},"encoding":{"yError":{"field":"e"}}},
   {"transform":[{"filter":{"field":"s","equal":"k"}}],"mark":{"type":"errorband","opacity":0.4,"color":"#000000"},"encoding":{"yError":{"field":"e"}}},
   {"transform":[{"filter":{"field":"s","equal":"r"}}],"mark":{"type":"errorband","opacity":0.4,"color":"#cc0000"},"encoding":{"yError":{"field":"e"}}},
   {"mark":{"type":"line","strokeWidth":2.7,"strokeJoin":"round"},"encoding":{
    "color":{"field":"s","type":"nominal","scale":{"domain":["b","k","r"],"range":["#0000cc","#000000","#cc0000"]},"legend":{"title":null,"symbolType":"stroke","legendX":215.2,"legendY":155.7,"labelExpr":"datum.label=='b'?'70 dBA':datum.label=='k'?'80 dBA':'90 dBA'"}},
    "strokeDash":{"field":"s","type":"nominal","scale":{"domain":["b","k","r","z"],"range":[[1,0],[1,0],[1,0],[1,0]]},"legend":{"title":null,"symbolType":"stroke","legendX":215.2,"legendY":155.7,"values":["b","k","r"],"labelFontStyle":"italic","symbolSize":400,"symbolStrokeWidth":0,"labelExpr":"datum.label=='k'?'\u200b\u2007\u2007\u2008\u2003\u2003\u2008STD':'\u200b\u2007\u2007\u2008\u2003\u2003\u2008DEV'"}},
    "opacity":{"field":"s","type":"nominal","scale":{"domain":["b","k","r","z","w"],"range":[1,1]},"legend":{"title":null,"symbolType":"stroke","legendX":215.2,"legendY":160.3,"rowPadding":4.7,"values":["b","k","r"],"labelFontStyle":"italic","labelFontSize":10.5,"symbolSize":400,"symbolStrokeWidth":0,"labelExpr":"datum.label=='k'?'\u200b\u2003\u2003\u2003\u2003\u2003\u2003\u2003\u2003\u2008\u2006OD':'\u200b\u2003\u2003\u2003\u2003\u2003\u2003\u2003\u2003\u2008\u2005OD'"}}}}
  ]},
 {"width":366,"height":232,"data":{"name":"d32"},
  "encoding":{"x":{"field":"t","type":"quantitative","scale":{"domain":[-17.5,175],"nice":false,"zero":false},"axis":{"offset":-116,"values":[25,50,75,100,125,150,175],"title":"c)","titleX":315,"titleY":-140.3,"titleAlign":"left","titleBaseline":"alphabetic","titleFontSize":20.5,"titleFontWeight":"bold"}},
   "y":{"field":"m","type":"quantitative","scale":{"domain":[-20,20],"nice":false,"zero":false},"axis":{"offset":-33.27,"values":[-20,-10,10,20],"title":null}}},
  "layer":[
   {"transform":[{"filter":{"field":"s","equal":"b"}}],"mark":{"type":"errorband","opacity":0.4,"color":"#0000cc"},"encoding":{"yError":{"field":"e"}}},
   {"transform":[{"filter":{"field":"s","equal":"r"}}],"mark":{"type":"errorband","opacity":0.4,"color":"#cc0000"},"encoding":{"yError":{"field":"e"}}},
   {"mark":{"type":"line","strokeWidth":2.7,"strokeJoin":"round"},"encoding":{
    "color":{"field":"s","type":"nominal","scale":{"domain":["b","r"],"range":["#0000cc","#cc0000"]},"legend":{"title":null,"symbolType":"stroke","legendX":188.5,"legendY":175.7,"labelExpr":"datum.label=='b'?'70 dBA':'90 dBA'"}},
    "strokeDash":{"field":"s","type":"nominal","scale":{"domain":["b","r","z"],"range":[[1,0],[1,0],[1,0]]},"legend":{"title":null,"symbolType":"stroke","legendX":188.5,"legendY":175.7,"values":["b","r"],"labelFontStyle":"italic","symbolSize":400,"symbolStrokeWidth":0,"labelExpr":"'\u200b\u2007\u2007\u2008\u2003\u2003\u2008MMR'"}},
    "opacity":{"field":"s","type":"nominal","scale":{"domain":["b","r","z","w"],"range":[1,1]},"legend":{"title":null,"symbolType":"stroke","legendX":188.5,"legendY":180.3,"rowPadding":4.7,"values":["b","r"],"labelFontStyle":"italic","labelFontSize":10.5,"symbolSize":400,"symbolStrokeWidth":0,"labelExpr":"'\u200b\u2003\u2003\u2003\u2003\u2003\u2003\u2003\u2003\u2003classic'"}}}}
  ]},
 {"width":366,"height":232,"data":{"name":"d33"},
  "encoding":{"x":{"field":"t","type":"quantitative","scale":{"domain":[-17.5,175],"nice":false,"zero":false},"axis":{"offset":-139.2,"values":[25,50,75,100,125,150,175],"title":"Intensity","titleX":-91.5,"titleY":-117.1,"titleAlign":"left","titleBaseline":"alphabetic","titleFontSize":20.5}},
   "y":{"field":"m","type":"quantitative","scale":{"domain":[-30,20],"nice":false,"zero":false},"axis":{"offset":-33.27,"values":[-30,-20,-10,10,20],"title":null}}},
  "layer":[
   {"data":{"name":"d31"},"transform":[{"filter":{"field":"s","equal":"b"}}],"mark":{"type":"errorband","opacity":0.4,"color":"#0000cc"},"encoding":{"yError":{"field":"e"}}},
   {"data":{"name":"d31"},"transform":[{"filter":{"field":"s","equal":"r"}}],"mark":{"type":"errorband","opacity":0.4,"color":"#cc0000"},"encoding":{"yError":{"field":"e"}}},
   {"transform":[{"filter":{"field":"s","equal":"g"}}],"mark":{"type":"errorband","opacity":0.4,"color":"#00cc00"},"encoding":{"yError":{"field":"e"}}},
   {"transform":[{"filter":{"field":"s","equal":"y"}}],"mark":{"type":"errorband","opacity":0.4,"color":"#cccc00"},"encoding":{"yError":{"field":"e"}}},
   {"data":{"name":"d31"},"transform":[{"filter":{"field":"s","oneOf":["b","r"]}}],"mark":{"type":"line","strokeWidth":2.7,"strokeJoin":"round"},"encoding":{
    "color":{"field":"s","type":"nominal","scale":{"domain":["b","r","g","y"],"range":["#0000cc","#cc0000","#00cc00","#cccc00"]},"legend":{"title":null,"symbolType":"stroke","legendX":209.7,"legendY":159.3,"labelExpr":"datum.label=='b'||datum.label=='g'?'70 dBA':'90 dBA'"}},
    "strokeDash":{"field":"s","type":"nominal","scale":{"domain":["b","r","g","y","z"],"range":[[1,0],[1,0],[1,0],[1,0],[1,0]]},"legend":{"title":null,"symbolType":"stroke","legendX":209.7,"legendY":159.3,"values":["b","r","g","y"],"labelFontStyle":"italic","symbolSize":400,"symbolStrokeWidth":0,"labelExpr":"'\u200b\u2007\u2007\u2008\u2003\u2003\u2008DEV'"}},
    "opacity":{"field":"s","type":"nominal","scale":{"domain":["b","r","g","y","z","w"],"range":[1,1]},"legend":{"title":null,"symbolType":"stroke","legendX":209.7,"legendY":163.9,"rowPadding":4.7,"values":["b","r","g","y"],"labelFontStyle":"italic","labelFontSize":10.5,"symbolSize":400,"symbolStrokeWidth":0,"labelExpr":"datum.label=='b'||datum.label=='r'?'\u200b\u2003\u2003\u2003\u2003\u2003\u2003\u2003\u2003\u2008\u2005OD':'\u200b\u2003\u2003\u2003\u2003\u2003\u2003\u2003\u2003\u2008\u2005CTR'"}}}},
   {"mark":{"type":"line","strokeWidth":2.7,"strokeJoin":"round"},"encoding":{
    "color":{"field":"s","type":"nominal","scale":{"domain":["b","r","g","y"],"range":["#0000cc","#cc0000","#00cc00","#cccc00"]},"legend":{"title":null,"symbolType":"stroke","legendX":209.7,"legendY":159.3,"labelExpr":"datum.label=='b'||datum.label=='g'?'70 dBA':'90 dBA'"}},
    "strokeDash":{"field":"s","type":"nominal","scale":{"domain":["b","r","g","y","z"],"range":[[1,0],[1,0],[1,0],[1,0],[1,0]]},"legend":{"title":null,"symbolType":"stroke","legendX":209.7,"legendY":159.3,"values":["b","r","g","y"],"labelFontStyle":"italic","symbolSize":400,"symbolStrokeWidth":0,"labelExpr":"'\u200b\u2007\u2007\u2008\u2003\u2003\u2008DEV'"}},
    "opacity":{"field":"s","type":"nominal","scale":{"domain":["b","r","g","y","z","w"],"range":[1,1]},"legend":{"title":null,"symbolType":"stroke","legendX":209.7,"legendY":163.9,"rowPadding":4.7,"values":["b","r","g","y"],"labelFontStyle":"italic","labelFontSize":10.5,"symbolSize":400,"symbolStrokeWidth":0,"labelExpr":"datum.label=='b'||datum.label=='r'?'\u200b\u2003\u2003\u2003\u2003\u2003\u2003\u2003\u2003\u2008\u2005OD':'\u200b\u2003\u2003\u2003\u2003\u2003\u2003\u2003\u2003\u2008\u2005CTR'"}}}}
  ]},
 {"width":366,"height":232,"data":{"name":"d34"},
  "encoding":{"x":{"field":"t","type":"quantitative","scale":{"domain":[-17.5,175],"nice":false,"zero":false},"axis":{"offset":-116,"values":[25,50,75,100,125,150,175],"title":null}},
   "y":{"field":"m","type":"quantitative","scale":{"domain":[-20,20],"nice":false,"zero":false},"axis":{"offset":-33.27,"values":[-20,-10,10,20],"title":null}}},
  "layer":[
   {"transform":[{"filter":{"field":"s","equal":"b"}}],"mark":{"type":"errorband","opacity":0.4,"color":"#0000cc"},"encoding":{"yError":{"field":"e"}}},
   {"transform":[{"filter":{"field":"s","equal":"k"}}],"mark":{"type":"errorband","opacity":0.4,"color":"#000000"},"encoding":{"yError":{"field":"e"}}},
   {"transform":[{"filter":{"field":"s","equal":"r"}}],"mark":{"type":"errorband","opacity":0.4,"color":"#cc0000"},"encoding":{"yError":{"field":"e"}}},
   {"mark":{"type":"line","strokeWidth":2.7,"strokeJoin":"round"},"encoding":{
    "color":{"field":"s","type":"nominal","scale":{"domain":["b","k","r"],"range":["#0000cc","#000000","#cc0000"]},"legend":{"title":null,"symbolType":"stroke","legendX":188.5,"legendY":180.7,"labelExpr":"datum.label=='b'?'70 dBA':datum.label=='k'?'80 dBA':'90 dBA'"}},
    "strokeDash":{"field":"s","type":"nominal","scale":{"domain":["b","k","r","z"],"range":[[1,0],[1,0],[1,0],[1,0]]},"legend":{"title":null,"symbolType":"stroke","legendX":188.5,"legendY":180.7,"values":["b","k","r"],"labelFontStyle":"italic","symbolSize":400,"symbolStrokeWidth":0,"labelExpr":"datum.label=='k'?'\u200b\u2007\u2007\u2008\u2003\u2003\u2008STD':'\u200b\u2007\u2007\u2008\u2003\u2003\u2008MMR'"}},
    "opacity":{"field":"s","type":"nominal","scale":{"domain":["b","k","r","z","w"],"range":[1,1]},"legend":{"title":null,"symbolType":"stroke","legendX":188.5,"legendY":185.3,"rowPadding":4.7,"values":["b","k","r"],"labelFontStyle":"italic","labelFontSize":10.5,"symbolSize":400,"symbolStrokeWidth":0,"labelExpr":"datum.label=='k'?'\u200b\u2003\u2003\u2003\u2003\u2003\u2003\u2003\u2003\u2008\u2006control':'\u200b\u2003\u2003\u2003\u2003\u2003\u2003\u2003\u2003\u2003control'"}}}}
  ]}
]
}
